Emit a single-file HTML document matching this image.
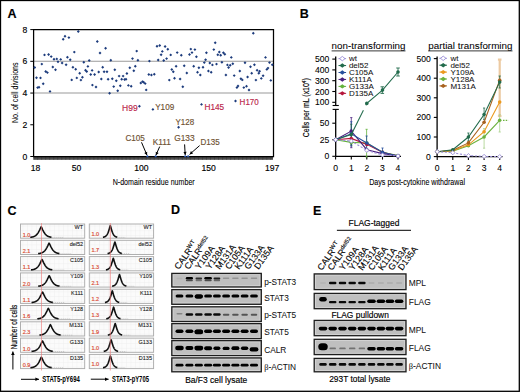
<!DOCTYPE html>
<html><head><meta charset="utf-8"><style>
html,body{margin:0;padding:0;background:#fff;}
svg{display:block;}
text{font-family:"Liberation Sans", sans-serif;}
</style></head><body>
<svg width="520" height="392" viewBox="0 0 520 392">
<defs>
<filter id="bl" x="-30%" y="-60%" width="160%" height="220%"><feGaussianBlur stdDeviation="0.7"/></filter>
<pattern id="grid" patternUnits="userSpaceOnUse" x="0" y="0" width="4.5" height="4.7">
<rect width="4.5" height="4.7" fill="#fbfbfb"/><path d="M0 0V4.7M0 0H4.5" stroke="#e4e4e4" stroke-width="0.5"/></pattern>
</defs>
<rect width="520" height="392" fill="#fff"/>
<rect x="0.50" y="0.50" width="518.80" height="390.80" fill="none" stroke="#000" stroke-width="1.3" />
<text x="7.60" y="18.20" font-size="12.5" fill="#000" stroke="#000" stroke-width="0.15" font-weight="bold" >A</text>
<line x1="33.60" y1="61.32" x2="273.50" y2="61.32" stroke="#9a9a9a" stroke-width="1.1" />
<line x1="33.60" y1="93.05" x2="273.50" y2="93.05" stroke="#9a9a9a" stroke-width="1.1" />
<rect x="33.60" y="156.50" width="239.40" height="3.30" fill="#4d4d4d" stroke="none" stroke-width="1" />
<line x1="33.60" y1="156.50" x2="33.60" y2="159.80" stroke="#333" stroke-width="0.5" />
<line x1="37.62" y1="156.50" x2="37.62" y2="159.80" stroke="#333" stroke-width="0.5" />
<line x1="41.64" y1="156.50" x2="41.64" y2="159.80" stroke="#333" stroke-width="0.5" />
<line x1="45.66" y1="156.50" x2="45.66" y2="159.80" stroke="#333" stroke-width="0.5" />
<line x1="49.68" y1="156.50" x2="49.68" y2="159.80" stroke="#333" stroke-width="0.5" />
<line x1="53.70" y1="156.50" x2="53.70" y2="159.80" stroke="#333" stroke-width="0.5" />
<line x1="57.72" y1="156.50" x2="57.72" y2="159.80" stroke="#333" stroke-width="0.5" />
<line x1="61.74" y1="156.50" x2="61.74" y2="159.80" stroke="#333" stroke-width="0.5" />
<line x1="65.77" y1="156.50" x2="65.77" y2="159.80" stroke="#333" stroke-width="0.5" />
<line x1="69.79" y1="156.50" x2="69.79" y2="159.80" stroke="#333" stroke-width="0.5" />
<line x1="73.81" y1="156.50" x2="73.81" y2="159.80" stroke="#333" stroke-width="0.5" />
<line x1="77.83" y1="156.50" x2="77.83" y2="159.80" stroke="#333" stroke-width="0.5" />
<line x1="81.85" y1="156.50" x2="81.85" y2="159.80" stroke="#333" stroke-width="0.5" />
<line x1="85.87" y1="156.50" x2="85.87" y2="159.80" stroke="#333" stroke-width="0.5" />
<line x1="89.89" y1="156.50" x2="89.89" y2="159.80" stroke="#333" stroke-width="0.5" />
<line x1="93.91" y1="156.50" x2="93.91" y2="159.80" stroke="#333" stroke-width="0.5" />
<line x1="97.93" y1="156.50" x2="97.93" y2="159.80" stroke="#333" stroke-width="0.5" />
<line x1="101.95" y1="156.50" x2="101.95" y2="159.80" stroke="#333" stroke-width="0.5" />
<line x1="105.97" y1="156.50" x2="105.97" y2="159.80" stroke="#333" stroke-width="0.5" />
<line x1="109.99" y1="156.50" x2="109.99" y2="159.80" stroke="#333" stroke-width="0.5" />
<line x1="114.01" y1="156.50" x2="114.01" y2="159.80" stroke="#333" stroke-width="0.5" />
<line x1="118.03" y1="156.50" x2="118.03" y2="159.80" stroke="#333" stroke-width="0.5" />
<line x1="122.05" y1="156.50" x2="122.05" y2="159.80" stroke="#333" stroke-width="0.5" />
<line x1="126.08" y1="156.50" x2="126.08" y2="159.80" stroke="#333" stroke-width="0.5" />
<line x1="130.10" y1="156.50" x2="130.10" y2="159.80" stroke="#333" stroke-width="0.5" />
<line x1="134.12" y1="156.50" x2="134.12" y2="159.80" stroke="#333" stroke-width="0.5" />
<line x1="138.14" y1="156.50" x2="138.14" y2="159.80" stroke="#333" stroke-width="0.5" />
<line x1="142.16" y1="156.50" x2="142.16" y2="159.80" stroke="#333" stroke-width="0.5" />
<line x1="146.18" y1="156.50" x2="146.18" y2="159.80" stroke="#333" stroke-width="0.5" />
<line x1="150.20" y1="156.50" x2="150.20" y2="159.80" stroke="#333" stroke-width="0.5" />
<line x1="154.22" y1="156.50" x2="154.22" y2="159.80" stroke="#333" stroke-width="0.5" />
<line x1="158.24" y1="156.50" x2="158.24" y2="159.80" stroke="#333" stroke-width="0.5" />
<line x1="162.26" y1="156.50" x2="162.26" y2="159.80" stroke="#333" stroke-width="0.5" />
<line x1="166.28" y1="156.50" x2="166.28" y2="159.80" stroke="#333" stroke-width="0.5" />
<line x1="170.30" y1="156.50" x2="170.30" y2="159.80" stroke="#333" stroke-width="0.5" />
<line x1="174.32" y1="156.50" x2="174.32" y2="159.80" stroke="#333" stroke-width="0.5" />
<line x1="178.34" y1="156.50" x2="178.34" y2="159.80" stroke="#333" stroke-width="0.5" />
<line x1="182.36" y1="156.50" x2="182.36" y2="159.80" stroke="#333" stroke-width="0.5" />
<line x1="186.39" y1="156.50" x2="186.39" y2="159.80" stroke="#333" stroke-width="0.5" />
<line x1="190.41" y1="156.50" x2="190.41" y2="159.80" stroke="#333" stroke-width="0.5" />
<line x1="194.43" y1="156.50" x2="194.43" y2="159.80" stroke="#333" stroke-width="0.5" />
<line x1="198.45" y1="156.50" x2="198.45" y2="159.80" stroke="#333" stroke-width="0.5" />
<line x1="202.47" y1="156.50" x2="202.47" y2="159.80" stroke="#333" stroke-width="0.5" />
<line x1="206.49" y1="156.50" x2="206.49" y2="159.80" stroke="#333" stroke-width="0.5" />
<line x1="210.51" y1="156.50" x2="210.51" y2="159.80" stroke="#333" stroke-width="0.5" />
<line x1="214.53" y1="156.50" x2="214.53" y2="159.80" stroke="#333" stroke-width="0.5" />
<line x1="218.55" y1="156.50" x2="218.55" y2="159.80" stroke="#333" stroke-width="0.5" />
<line x1="222.57" y1="156.50" x2="222.57" y2="159.80" stroke="#333" stroke-width="0.5" />
<line x1="226.59" y1="156.50" x2="226.59" y2="159.80" stroke="#333" stroke-width="0.5" />
<line x1="230.61" y1="156.50" x2="230.61" y2="159.80" stroke="#333" stroke-width="0.5" />
<line x1="234.63" y1="156.50" x2="234.63" y2="159.80" stroke="#333" stroke-width="0.5" />
<line x1="238.65" y1="156.50" x2="238.65" y2="159.80" stroke="#333" stroke-width="0.5" />
<line x1="242.67" y1="156.50" x2="242.67" y2="159.80" stroke="#333" stroke-width="0.5" />
<line x1="246.70" y1="156.50" x2="246.70" y2="159.80" stroke="#333" stroke-width="0.5" />
<line x1="250.72" y1="156.50" x2="250.72" y2="159.80" stroke="#333" stroke-width="0.5" />
<line x1="254.74" y1="156.50" x2="254.74" y2="159.80" stroke="#333" stroke-width="0.5" />
<line x1="258.76" y1="156.50" x2="258.76" y2="159.80" stroke="#333" stroke-width="0.5" />
<line x1="262.78" y1="156.50" x2="262.78" y2="159.80" stroke="#333" stroke-width="0.5" />
<line x1="266.80" y1="156.50" x2="266.80" y2="159.80" stroke="#333" stroke-width="0.5" />
<line x1="270.82" y1="156.50" x2="270.82" y2="159.80" stroke="#333" stroke-width="0.5" />
<path d="M33.6 156.5V29.6H273.5V156.5H33.6Z" fill="none" stroke="#000" stroke-width="1.25"/>
<line x1="30.30" y1="156.50" x2="33.60" y2="156.50" stroke="#000" stroke-width="1" />
<text x="27.20" y="159.60" font-size="8.6" fill="#000" stroke="#000" stroke-width="0.15" text-anchor="end" >0</text>
<line x1="30.30" y1="124.78" x2="33.60" y2="124.78" stroke="#000" stroke-width="1" />
<text x="27.20" y="127.88" font-size="8.6" fill="#000" stroke="#000" stroke-width="0.15" text-anchor="end" >2</text>
<line x1="30.30" y1="93.05" x2="33.60" y2="93.05" stroke="#000" stroke-width="1" />
<text x="27.20" y="96.15" font-size="8.6" fill="#000" stroke="#000" stroke-width="0.15" text-anchor="end" >4</text>
<line x1="30.30" y1="61.32" x2="33.60" y2="61.32" stroke="#000" stroke-width="1" />
<text x="27.20" y="64.42" font-size="8.6" fill="#000" stroke="#000" stroke-width="0.15" text-anchor="end" >6</text>
<line x1="30.30" y1="29.60" x2="33.60" y2="29.60" stroke="#000" stroke-width="1" />
<text x="27.20" y="32.70" font-size="8.6" fill="#000" stroke="#000" stroke-width="0.15" text-anchor="end" >8</text>
<text x="35.60" y="170.60" font-size="8.6" fill="#000" stroke="#000" stroke-width="0.15" text-anchor="middle" >18</text>
<text x="76.50" y="170.60" font-size="8.6" fill="#000" stroke="#000" stroke-width="0.15" text-anchor="middle" >50</text>
<text x="141.30" y="170.60" font-size="8.6" fill="#000" stroke="#000" stroke-width="0.15" text-anchor="middle" >100</text>
<text x="208.70" y="170.60" font-size="8.6" fill="#000" stroke="#000" stroke-width="0.15" text-anchor="middle" >150</text>
<text x="272.20" y="170.60" font-size="8.6" fill="#000" stroke="#000" stroke-width="0.15" text-anchor="middle" >197</text>
<text x="112.70" y="184.60" font-size="9.4" fill="#000" stroke="#000" stroke-width="0.08" textLength="82" lengthAdjust="spacingAndGlyphs" >N-domain residue number</text>
<text x="17.60" y="123.00" font-size="9.8" fill="#000" stroke="#000" stroke-width="0.05" textLength="60.6" lengthAdjust="spacingAndGlyphs" transform="rotate(-90 17.60 123.00)" >No. of cell divisions</text>
<path d="M76.85 31.50L78.30 30.05L79.75 31.50L78.30 32.95Z" fill="#1c3b7c" stroke="none" stroke-width="0.8"/>
<path d="M63.55 36.30L65.00 34.85L66.45 36.30L65.00 37.75Z" fill="#1c3b7c" stroke="none" stroke-width="0.8"/>
<path d="M61.75 39.30L63.20 37.85L64.65 39.30L63.20 40.75Z" fill="#1c3b7c" stroke="none" stroke-width="0.8"/>
<path d="M67.45 37.60L68.90 36.15L70.35 37.60L68.90 39.05Z" fill="#1c3b7c" stroke="none" stroke-width="0.8"/>
<path d="M72.85 52.10L74.30 50.65L75.75 52.10L74.30 53.55Z" fill="#1c3b7c" stroke="none" stroke-width="0.8"/>
<path d="M43.05 54.90L44.50 53.45L45.95 54.90L44.50 56.35Z" fill="#1c3b7c" stroke="none" stroke-width="0.8"/>
<path d="M47.15 54.50L48.60 53.05L50.05 54.50L48.60 55.95Z" fill="#1c3b7c" stroke="none" stroke-width="0.8"/>
<path d="M49.75 56.60L51.20 55.15L52.65 56.60L51.20 58.05Z" fill="#1c3b7c" stroke="none" stroke-width="0.8"/>
<path d="M52.55 59.20L54.00 57.75L55.45 59.20L54.00 60.65Z" fill="#1c3b7c" stroke="none" stroke-width="0.8"/>
<path d="M55.35 58.90L56.80 57.45L58.25 58.90L56.80 60.35Z" fill="#1c3b7c" stroke="none" stroke-width="0.8"/>
<path d="M56.55 61.70L58.00 60.25L59.45 61.70L58.00 63.15Z" fill="#1c3b7c" stroke="none" stroke-width="0.8"/>
<path d="M59.25 59.40L60.70 57.95L62.15 59.40L60.70 60.85Z" fill="#1c3b7c" stroke="none" stroke-width="0.8"/>
<path d="M60.65 63.00L62.10 61.55L63.55 63.00L62.10 64.45Z" fill="#1c3b7c" stroke="none" stroke-width="0.8"/>
<path d="M65.95 57.20L67.40 55.75L68.85 57.20L67.40 58.65Z" fill="#1c3b7c" stroke="none" stroke-width="0.8"/>
<path d="M68.75 59.70L70.20 58.25L71.65 59.70L70.20 61.15Z" fill="#1c3b7c" stroke="none" stroke-width="0.8"/>
<path d="M64.65 64.70L66.10 63.25L67.55 64.70L66.10 66.15Z" fill="#1c3b7c" stroke="none" stroke-width="0.8"/>
<path d="M82.35 62.20L83.80 60.75L85.25 62.20L83.80 63.65Z" fill="#1c3b7c" stroke="none" stroke-width="0.8"/>
<path d="M87.75 60.50L89.20 59.05L90.65 60.50L89.20 61.95Z" fill="#1c3b7c" stroke="none" stroke-width="0.8"/>
<path d="M40.35 64.10L41.80 62.65L43.25 64.10L41.80 65.55Z" fill="#1c3b7c" stroke="none" stroke-width="0.8"/>
<path d="M51.35 67.00L52.80 65.55L54.25 67.00L52.80 68.45Z" fill="#1c3b7c" stroke="none" stroke-width="0.8"/>
<path d="M71.45 67.20L72.90 65.75L74.35 67.20L72.90 68.65Z" fill="#1c3b7c" stroke="none" stroke-width="0.8"/>
<path d="M86.45 66.40L87.90 64.95L89.35 66.40L87.90 67.85Z" fill="#1c3b7c" stroke="none" stroke-width="0.8"/>
<path d="M33.25 67.50L34.70 66.05L36.15 67.50L34.70 68.95Z" fill="#1c3b7c" stroke="none" stroke-width="0.8"/>
<path d="M54.05 69.70L55.50 68.25L56.95 69.70L55.50 71.15Z" fill="#1c3b7c" stroke="none" stroke-width="0.8"/>
<path d="M74.25 69.30L75.70 67.85L77.15 69.30L75.70 70.75Z" fill="#1c3b7c" stroke="none" stroke-width="0.8"/>
<path d="M90.65 70.40L92.10 68.95L93.55 70.40L92.10 71.85Z" fill="#1c3b7c" stroke="none" stroke-width="0.8"/>
<path d="M44.25 71.50L45.70 70.05L47.15 71.50L45.70 72.95Z" fill="#1c3b7c" stroke="none" stroke-width="0.8"/>
<path d="M45.95 72.60L47.40 71.15L48.85 72.60L47.40 74.05Z" fill="#1c3b7c" stroke="none" stroke-width="0.8"/>
<path d="M78.25 73.20L79.70 71.75L81.15 73.20L79.70 74.65Z" fill="#1c3b7c" stroke="none" stroke-width="0.8"/>
<path d="M84.05 70.30L85.50 68.85L86.95 70.30L85.50 71.75Z" fill="#1c3b7c" stroke="none" stroke-width="0.8"/>
<path d="M85.25 71.50L86.70 70.05L88.15 71.50L86.70 72.95Z" fill="#1c3b7c" stroke="none" stroke-width="0.8"/>
<path d="M89.25 74.50L90.70 73.05L92.15 74.50L90.70 75.95Z" fill="#1c3b7c" stroke="none" stroke-width="0.8"/>
<path d="M35.05 77.80L36.50 76.35L37.95 77.80L36.50 79.25Z" fill="#1c3b7c" stroke="none" stroke-width="0.8"/>
<path d="M39.05 77.90L40.50 76.45L41.95 77.90L40.50 79.35Z" fill="#1c3b7c" stroke="none" stroke-width="0.8"/>
<path d="M75.35 77.90L76.80 76.45L78.25 77.90L76.80 79.35Z" fill="#1c3b7c" stroke="none" stroke-width="0.8"/>
<path d="M80.95 77.20L82.40 75.75L83.85 77.20L82.40 78.65Z" fill="#1c3b7c" stroke="none" stroke-width="0.8"/>
<path d="M70.25 79.90L71.70 78.45L73.15 79.90L71.70 81.35Z" fill="#1c3b7c" stroke="none" stroke-width="0.8"/>
<path d="M79.45 80.10L80.90 78.65L82.35 80.10L80.90 81.55Z" fill="#1c3b7c" stroke="none" stroke-width="0.8"/>
<path d="M41.75 83.70L43.20 82.25L44.65 83.70L43.20 85.15Z" fill="#1c3b7c" stroke="none" stroke-width="0.8"/>
<path d="M36.15 87.60L37.60 86.15L39.05 87.60L37.60 89.05Z" fill="#1c3b7c" stroke="none" stroke-width="0.8"/>
<path d="M37.55 87.20L39.00 85.75L40.45 87.20L39.00 88.65Z" fill="#1c3b7c" stroke="none" stroke-width="0.8"/>
<path d="M48.55 91.40L50.00 89.95L51.45 91.40L50.00 92.85Z" fill="#1c3b7c" stroke="none" stroke-width="0.8"/>
<path d="M90.95 85.10L92.40 83.65L93.85 85.10L92.40 86.55Z" fill="#1c3b7c" stroke="none" stroke-width="0.8"/>
<path d="M95.85 41.50L97.30 40.05L98.75 41.50L97.30 42.95Z" fill="#1c3b7c" stroke="none" stroke-width="0.8"/>
<path d="M104.15 48.20L105.60 46.75L107.05 48.20L105.60 49.65Z" fill="#1c3b7c" stroke="none" stroke-width="0.8"/>
<path d="M98.55 53.00L100.00 51.55L101.45 53.00L100.00 54.45Z" fill="#1c3b7c" stroke="none" stroke-width="0.8"/>
<path d="M109.35 60.30L110.80 58.85L112.25 60.30L110.80 61.75Z" fill="#1c3b7c" stroke="none" stroke-width="0.8"/>
<path d="M135.25 51.10L136.70 49.65L138.15 51.10L136.70 52.55Z" fill="#1c3b7c" stroke="none" stroke-width="0.8"/>
<path d="M131.05 58.60L132.50 57.15L133.95 58.60L132.50 60.05Z" fill="#1c3b7c" stroke="none" stroke-width="0.8"/>
<path d="M136.45 60.30L137.90 58.85L139.35 60.30L137.90 61.75Z" fill="#1c3b7c" stroke="none" stroke-width="0.8"/>
<path d="M147.95 61.10L149.40 59.65L150.85 61.10L149.40 62.55Z" fill="#1c3b7c" stroke="none" stroke-width="0.8"/>
<path d="M101.25 67.20L102.70 65.75L104.15 67.20L102.70 68.65Z" fill="#1c3b7c" stroke="none" stroke-width="0.8"/>
<path d="M128.35 67.80L129.80 66.35L131.25 67.80L129.80 69.25Z" fill="#1c3b7c" stroke="none" stroke-width="0.8"/>
<path d="M133.85 66.30L135.30 64.85L136.75 66.30L135.30 67.75Z" fill="#1c3b7c" stroke="none" stroke-width="0.8"/>
<path d="M93.15 74.50L94.60 73.05L96.05 74.50L94.60 75.95Z" fill="#1c3b7c" stroke="none" stroke-width="0.8"/>
<path d="M97.25 72.00L98.70 70.55L100.15 72.00L98.70 73.45Z" fill="#1c3b7c" stroke="none" stroke-width="0.8"/>
<path d="M102.65 71.80L104.10 70.35L105.55 71.80L104.10 73.25Z" fill="#1c3b7c" stroke="none" stroke-width="0.8"/>
<path d="M105.55 71.80L107.00 70.35L108.45 71.80L107.00 73.25Z" fill="#1c3b7c" stroke="none" stroke-width="0.8"/>
<path d="M113.35 69.80L114.80 68.35L116.25 69.80L114.80 71.25Z" fill="#1c3b7c" stroke="none" stroke-width="0.8"/>
<path d="M132.35 70.70L133.80 69.25L135.25 70.70L133.80 72.15Z" fill="#1c3b7c" stroke="none" stroke-width="0.8"/>
<path d="M125.45 73.50L126.90 72.05L128.35 73.50L126.90 74.95Z" fill="#1c3b7c" stroke="none" stroke-width="0.8"/>
<path d="M147.35 74.50L148.80 73.05L150.25 74.50L148.80 75.95Z" fill="#1c3b7c" stroke="none" stroke-width="0.8"/>
<path d="M99.85 79.00L101.30 77.55L102.75 79.00L101.30 80.45Z" fill="#1c3b7c" stroke="none" stroke-width="0.8"/>
<path d="M106.65 79.30L108.10 77.85L109.55 79.30L108.10 80.75Z" fill="#1c3b7c" stroke="none" stroke-width="0.8"/>
<path d="M110.85 78.70L112.30 77.25L113.75 78.70L112.30 80.15Z" fill="#1c3b7c" stroke="none" stroke-width="0.8"/>
<path d="M114.85 80.70L116.30 79.25L117.75 80.70L116.30 82.15Z" fill="#1c3b7c" stroke="none" stroke-width="0.8"/>
<path d="M117.65 76.10L119.10 74.65L120.55 76.10L119.10 77.55Z" fill="#1c3b7c" stroke="none" stroke-width="0.8"/>
<path d="M121.65 76.10L123.10 74.65L124.55 76.10L123.10 77.55Z" fill="#1c3b7c" stroke="none" stroke-width="0.8"/>
<path d="M120.25 79.30L121.70 77.85L123.15 79.30L121.70 80.75Z" fill="#1c3b7c" stroke="none" stroke-width="0.8"/>
<path d="M123.15 79.50L124.60 78.05L126.05 79.50L124.60 80.95Z" fill="#1c3b7c" stroke="none" stroke-width="0.8"/>
<path d="M124.55 79.30L126.00 77.85L127.45 79.30L126.00 80.75Z" fill="#1c3b7c" stroke="none" stroke-width="0.8"/>
<path d="M94.55 87.00L96.00 85.55L97.45 87.00L96.00 88.45Z" fill="#1c3b7c" stroke="none" stroke-width="0.8"/>
<path d="M112.25 86.60L113.70 85.15L115.15 86.60L113.70 88.05Z" fill="#1c3b7c" stroke="none" stroke-width="0.8"/>
<path d="M118.85 85.70L120.30 84.25L121.75 85.70L120.30 87.15Z" fill="#1c3b7c" stroke="none" stroke-width="0.8"/>
<path d="M126.95 85.40L128.40 83.95L129.85 85.40L128.40 86.85Z" fill="#1c3b7c" stroke="none" stroke-width="0.8"/>
<path d="M129.75 86.20L131.20 84.75L132.65 86.20L131.20 87.65Z" fill="#1c3b7c" stroke="none" stroke-width="0.8"/>
<path d="M116.25 90.80L117.70 89.35L119.15 90.80L117.70 92.25Z" fill="#1c3b7c" stroke="none" stroke-width="0.8"/>
<path d="M108.15 93.20L109.60 91.75L111.05 93.20L109.60 94.65Z" fill="#1c3b7c" stroke="none" stroke-width="0.8"/>
<path d="M139.35 83.00L140.80 81.55L142.25 83.00L140.80 84.45Z" fill="#1c3b7c" stroke="none" stroke-width="0.8"/>
<path d="M141.05 81.60L142.50 80.15L143.95 81.60L142.50 83.05Z" fill="#1c3b7c" stroke="none" stroke-width="0.8"/>
<path d="M142.25 82.20L143.70 80.75L145.15 82.20L143.70 83.65Z" fill="#1c3b7c" stroke="none" stroke-width="0.8"/>
<path d="M143.75 83.60L145.20 82.15L146.65 83.60L145.20 85.05Z" fill="#1c3b7c" stroke="none" stroke-width="0.8"/>
<path d="M144.75 89.90L146.20 88.45L147.65 89.90L146.20 91.35Z" fill="#1c3b7c" stroke="none" stroke-width="0.8"/>
<path d="M155.55 46.20L157.00 44.75L158.45 46.20L157.00 47.65Z" fill="#1c3b7c" stroke="none" stroke-width="0.8"/>
<path d="M158.25 45.50L159.70 44.05L161.15 45.50L159.70 46.95Z" fill="#1c3b7c" stroke="none" stroke-width="0.8"/>
<path d="M163.65 46.50L165.10 45.05L166.55 46.50L165.10 47.95Z" fill="#1c3b7c" stroke="none" stroke-width="0.8"/>
<path d="M166.35 49.30L167.80 47.85L169.25 49.30L167.80 50.75Z" fill="#1c3b7c" stroke="none" stroke-width="0.8"/>
<path d="M160.85 51.40L162.30 49.95L163.75 51.40L162.30 52.85Z" fill="#1c3b7c" stroke="none" stroke-width="0.8"/>
<path d="M159.65 54.80L161.10 53.35L162.55 54.80L161.10 56.25Z" fill="#1c3b7c" stroke="none" stroke-width="0.8"/>
<path d="M169.25 54.90L170.70 53.45L172.15 54.90L170.70 56.35Z" fill="#1c3b7c" stroke="none" stroke-width="0.8"/>
<path d="M175.75 52.60L177.20 51.15L178.65 52.60L177.20 54.05Z" fill="#1c3b7c" stroke="none" stroke-width="0.8"/>
<path d="M179.85 55.30L181.30 53.85L182.75 55.30L181.30 56.75Z" fill="#1c3b7c" stroke="none" stroke-width="0.8"/>
<path d="M189.35 49.10L190.80 47.65L192.25 49.10L190.80 50.55Z" fill="#1c3b7c" stroke="none" stroke-width="0.8"/>
<path d="M193.45 49.60L194.90 48.15L196.35 49.60L194.90 51.05Z" fill="#1c3b7c" stroke="none" stroke-width="0.8"/>
<path d="M190.55 52.60L192.00 51.15L193.45 52.60L192.00 54.05Z" fill="#1c3b7c" stroke="none" stroke-width="0.8"/>
<path d="M188.05 54.50L189.50 53.05L190.95 54.50L189.50 55.95Z" fill="#1c3b7c" stroke="none" stroke-width="0.8"/>
<path d="M194.95 56.80L196.40 55.35L197.85 56.80L196.40 58.25Z" fill="#1c3b7c" stroke="none" stroke-width="0.8"/>
<path d="M204.95 52.80L206.40 51.35L207.85 52.80L206.40 54.25Z" fill="#1c3b7c" stroke="none" stroke-width="0.8"/>
<path d="M165.15 58.60L166.60 57.15L168.05 58.60L166.60 60.05Z" fill="#1c3b7c" stroke="none" stroke-width="0.8"/>
<path d="M156.75 60.00L158.20 58.55L159.65 60.00L158.20 61.45Z" fill="#1c3b7c" stroke="none" stroke-width="0.8"/>
<path d="M162.25 60.50L163.70 59.05L165.15 60.50L163.70 61.95Z" fill="#1c3b7c" stroke="none" stroke-width="0.8"/>
<path d="M204.15 59.70L205.60 58.25L207.05 59.70L205.60 61.15Z" fill="#1c3b7c" stroke="none" stroke-width="0.8"/>
<path d="M202.85 62.60L204.30 61.15L205.75 62.60L204.30 64.05Z" fill="#1c3b7c" stroke="none" stroke-width="0.8"/>
<path d="M174.65 66.30L176.10 64.85L177.55 66.30L176.10 67.75Z" fill="#1c3b7c" stroke="none" stroke-width="0.8"/>
<path d="M182.75 65.80L184.20 64.35L185.65 65.80L184.20 67.25Z" fill="#1c3b7c" stroke="none" stroke-width="0.8"/>
<path d="M192.25 66.30L193.70 64.85L195.15 66.30L193.70 67.75Z" fill="#1c3b7c" stroke="none" stroke-width="0.8"/>
<path d="M197.45 67.80L198.90 66.35L200.35 67.80L198.90 69.25Z" fill="#1c3b7c" stroke="none" stroke-width="0.8"/>
<path d="M201.55 67.20L203.00 65.75L204.45 67.20L203.00 68.65Z" fill="#1c3b7c" stroke="none" stroke-width="0.8"/>
<path d="M170.35 69.50L171.80 68.05L173.25 69.50L171.80 70.95Z" fill="#1c3b7c" stroke="none" stroke-width="0.8"/>
<path d="M171.85 71.80L173.30 70.35L174.75 71.80L173.30 73.25Z" fill="#1c3b7c" stroke="none" stroke-width="0.8"/>
<path d="M185.35 73.00L186.80 71.55L188.25 73.00L186.80 74.45Z" fill="#1c3b7c" stroke="none" stroke-width="0.8"/>
<path d="M196.05 72.20L197.50 70.75L198.95 72.20L197.50 73.65Z" fill="#1c3b7c" stroke="none" stroke-width="0.8"/>
<path d="M198.85 75.00L200.30 73.55L201.75 75.00L200.30 76.45Z" fill="#1c3b7c" stroke="none" stroke-width="0.8"/>
<path d="M149.95 75.00L151.40 73.55L152.85 75.00L151.40 76.45Z" fill="#1c3b7c" stroke="none" stroke-width="0.8"/>
<path d="M152.85 74.30L154.30 72.85L155.75 74.30L154.30 75.75Z" fill="#1c3b7c" stroke="none" stroke-width="0.8"/>
<path d="M167.85 80.10L169.30 78.65L170.75 80.10L169.30 81.55Z" fill="#1c3b7c" stroke="none" stroke-width="0.8"/>
<path d="M173.05 78.20L174.50 76.75L175.95 78.20L174.50 79.65Z" fill="#1c3b7c" stroke="none" stroke-width="0.8"/>
<path d="M178.65 79.00L180.10 77.55L181.55 79.00L180.10 80.45Z" fill="#1c3b7c" stroke="none" stroke-width="0.8"/>
<path d="M181.35 86.80L182.80 85.35L184.25 86.80L182.80 88.25Z" fill="#1c3b7c" stroke="none" stroke-width="0.8"/>
<path d="M251.85 33.20L253.30 31.75L254.75 33.20L253.30 34.65Z" fill="#1c3b7c" stroke="none" stroke-width="0.8"/>
<path d="M213.75 42.70L215.20 41.25L216.65 42.70L215.20 44.15Z" fill="#1c3b7c" stroke="none" stroke-width="0.8"/>
<path d="M212.35 49.60L213.80 48.15L215.25 49.60L213.80 51.05Z" fill="#1c3b7c" stroke="none" stroke-width="0.8"/>
<path d="M217.85 52.00L219.30 50.55L220.75 52.00L219.30 53.45Z" fill="#1c3b7c" stroke="none" stroke-width="0.8"/>
<path d="M216.35 54.80L217.80 53.35L219.25 54.80L217.80 56.25Z" fill="#1c3b7c" stroke="none" stroke-width="0.8"/>
<path d="M219.25 55.30L220.70 53.85L222.15 55.30L220.70 56.75Z" fill="#1c3b7c" stroke="none" stroke-width="0.8"/>
<path d="M221.95 52.80L223.40 51.35L224.85 52.80L223.40 54.25Z" fill="#1c3b7c" stroke="none" stroke-width="0.8"/>
<path d="M223.35 54.30L224.80 52.85L226.25 54.30L224.80 55.75Z" fill="#1c3b7c" stroke="none" stroke-width="0.8"/>
<path d="M229.85 57.40L231.30 55.95L232.75 57.40L231.30 58.85Z" fill="#1c3b7c" stroke="none" stroke-width="0.8"/>
<path d="M208.35 63.00L209.80 61.55L211.25 63.00L209.80 64.45Z" fill="#1c3b7c" stroke="none" stroke-width="0.8"/>
<path d="M210.95 64.90L212.40 63.45L213.85 64.90L212.40 66.35Z" fill="#1c3b7c" stroke="none" stroke-width="0.8"/>
<path d="M215.05 64.10L216.50 62.65L217.95 64.10L216.50 65.55Z" fill="#1c3b7c" stroke="none" stroke-width="0.8"/>
<path d="M220.45 62.30L221.90 60.85L223.35 62.30L221.90 63.75Z" fill="#1c3b7c" stroke="none" stroke-width="0.8"/>
<path d="M225.95 64.90L227.40 63.45L228.85 64.90L227.40 66.35Z" fill="#1c3b7c" stroke="none" stroke-width="0.8"/>
<path d="M228.75 65.30L230.20 63.85L231.65 65.30L230.20 66.75Z" fill="#1c3b7c" stroke="none" stroke-width="0.8"/>
<path d="M231.35 63.80L232.80 62.35L234.25 63.80L232.80 65.25Z" fill="#1c3b7c" stroke="none" stroke-width="0.8"/>
<path d="M243.55 62.80L245.00 61.35L246.45 62.80L245.00 64.25Z" fill="#1c3b7c" stroke="none" stroke-width="0.8"/>
<path d="M252.95 64.70L254.40 63.25L255.85 64.70L254.40 66.15Z" fill="#1c3b7c" stroke="none" stroke-width="0.8"/>
<path d="M249.05 66.70L250.50 65.25L251.95 66.70L250.50 68.15Z" fill="#1c3b7c" stroke="none" stroke-width="0.8"/>
<path d="M227.15 67.50L228.60 66.05L230.05 67.50L228.60 68.95Z" fill="#1c3b7c" stroke="none" stroke-width="0.8"/>
<path d="M206.95 71.00L208.40 69.55L209.85 71.00L208.40 72.45Z" fill="#1c3b7c" stroke="none" stroke-width="0.8"/>
<path d="M209.75 72.20L211.20 70.75L212.65 72.20L211.20 73.65Z" fill="#1c3b7c" stroke="none" stroke-width="0.8"/>
<path d="M224.45 75.00L225.90 73.55L227.35 75.00L225.90 76.45Z" fill="#1c3b7c" stroke="none" stroke-width="0.8"/>
<path d="M232.75 75.60L234.20 74.15L235.65 75.60L234.20 77.05Z" fill="#1c3b7c" stroke="none" stroke-width="0.8"/>
<path d="M238.35 71.00L239.80 69.55L241.25 71.00L239.80 72.45Z" fill="#1c3b7c" stroke="none" stroke-width="0.8"/>
<path d="M239.45 78.70L240.90 77.25L242.35 78.70L240.90 80.15Z" fill="#1c3b7c" stroke="none" stroke-width="0.8"/>
<path d="M240.85 79.90L242.30 78.45L243.75 79.90L242.30 81.35Z" fill="#1c3b7c" stroke="none" stroke-width="0.8"/>
<path d="M246.15 77.00L247.60 75.55L249.05 77.00L247.60 78.45Z" fill="#1c3b7c" stroke="none" stroke-width="0.8"/>
<path d="M250.25 73.30L251.70 71.85L253.15 73.30L251.70 74.75Z" fill="#1c3b7c" stroke="none" stroke-width="0.8"/>
<path d="M255.65 70.30L257.10 68.85L258.55 70.30L257.10 71.75Z" fill="#1c3b7c" stroke="none" stroke-width="0.8"/>
<path d="M258.15 71.20L259.60 69.75L261.05 71.20L259.60 72.65Z" fill="#1c3b7c" stroke="none" stroke-width="0.8"/>
<path d="M257.35 73.20L258.80 71.75L260.25 73.20L258.80 74.65Z" fill="#1c3b7c" stroke="none" stroke-width="0.8"/>
<path d="M254.45 80.10L255.90 78.65L257.35 80.10L255.90 81.55Z" fill="#1c3b7c" stroke="none" stroke-width="0.8"/>
<path d="M259.85 78.40L261.30 76.95L262.75 78.40L261.30 79.85Z" fill="#1c3b7c" stroke="none" stroke-width="0.8"/>
<path d="M261.65 75.80L263.10 74.35L264.55 75.80L263.10 77.25Z" fill="#1c3b7c" stroke="none" stroke-width="0.8"/>
<path d="M235.45 87.60L236.90 86.15L238.35 87.60L236.90 89.05Z" fill="#1c3b7c" stroke="none" stroke-width="0.8"/>
<path d="M236.55 86.00L238.00 84.55L239.45 86.00L238.00 87.45Z" fill="#1c3b7c" stroke="none" stroke-width="0.8"/>
<path d="M242.35 87.60L243.80 86.15L245.25 87.60L243.80 89.05Z" fill="#1c3b7c" stroke="none" stroke-width="0.8"/>
<path d="M245.05 86.20L246.50 84.75L247.95 86.20L246.50 87.65Z" fill="#1c3b7c" stroke="none" stroke-width="0.8"/>
<path d="M247.55 90.00L249.00 88.55L250.45 90.00L249.00 91.45Z" fill="#1c3b7c" stroke="none" stroke-width="0.8"/>
<path d="M264.05 57.40L265.50 55.95L266.95 57.40L265.50 58.85Z" fill="#1c3b7c" stroke="none" stroke-width="0.8"/>
<path d="M268.05 62.60L269.50 61.15L270.95 62.60L269.50 64.05Z" fill="#1c3b7c" stroke="none" stroke-width="0.8"/>
<path d="M270.85 64.80L272.30 63.35L273.75 64.80L272.30 66.25Z" fill="#1c3b7c" stroke="none" stroke-width="0.8"/>
<path d="M265.35 69.40L266.80 67.95L268.25 69.40L266.80 70.85Z" fill="#1c3b7c" stroke="none" stroke-width="0.8"/>
<path d="M266.55 68.10L268.00 66.65L269.45 68.10L268.00 69.55Z" fill="#1c3b7c" stroke="none" stroke-width="0.8"/>
<path d="M269.35 80.40L270.80 78.95L272.25 80.40L270.80 81.85Z" fill="#1c3b7c" stroke="none" stroke-width="0.8"/>
<path d="M137.95 106.20L139.40 104.75L140.85 106.20L139.40 107.65Z" fill="#1c3b7c" stroke="none" stroke-width="0.8"/>
<path d="M151.45 109.40L152.90 107.95L154.35 109.40L152.90 110.85Z" fill="#1c3b7c" stroke="none" stroke-width="0.8"/>
<path d="M177.15 127.30L178.60 125.85L180.05 127.30L178.60 128.75Z" fill="#1c3b7c" stroke="none" stroke-width="0.8"/>
<path d="M200.05 104.40L201.50 102.95L202.95 104.40L201.50 105.85Z" fill="#1c3b7c" stroke="none" stroke-width="0.8"/>
<path d="M234.05 101.00L235.50 99.55L236.95 101.00L235.50 102.45Z" fill="#1c3b7c" stroke="none" stroke-width="0.8"/>
<text x="122.10" y="110.60" font-size="8.4" fill="#bb1f4a" stroke="#bb1f4a" stroke-width="0.15" textLength="15.6" lengthAdjust="spacingAndGlyphs" >H99</text>
<text x="155.20" y="109.80" font-size="8.4" fill="#6f5232" stroke="#6f5232" stroke-width="0.15" textLength="19" lengthAdjust="spacingAndGlyphs" >Y109</text>
<text x="175.40" y="124.80" font-size="8.4" fill="#6f5232" stroke="#6f5232" stroke-width="0.15" textLength="18.7" lengthAdjust="spacingAndGlyphs" >Y128</text>
<text x="204.50" y="109.60" font-size="8.4" fill="#bb1f4a" stroke="#bb1f4a" stroke-width="0.15" textLength="19.7" lengthAdjust="spacingAndGlyphs" >H145</text>
<text x="239.60" y="105.00" font-size="8.4" fill="#bb1f4a" stroke="#bb1f4a" stroke-width="0.15" textLength="19.2" lengthAdjust="spacingAndGlyphs" >H170</text>
<text x="125.40" y="140.80" font-size="8.4" fill="#6f5232" stroke="#6f5232" stroke-width="0.15" textLength="19.5" lengthAdjust="spacingAndGlyphs" >C105</text>
<text x="152.80" y="145.10" font-size="8.4" fill="#6f5232" stroke="#6f5232" stroke-width="0.15" textLength="18" lengthAdjust="spacingAndGlyphs" >K111</text>
<text x="174.20" y="141.00" font-size="8.4" fill="#6f5232" stroke="#6f5232" stroke-width="0.15" textLength="20.4" lengthAdjust="spacingAndGlyphs" >G133</text>
<text x="200.50" y="145.00" font-size="8.4" fill="#6f5232" stroke="#6f5232" stroke-width="0.15" textLength="19.3" lengthAdjust="spacingAndGlyphs" >D135</text>
<line x1="141.50" y1="142.30" x2="147.00" y2="155.20" stroke="#000" stroke-width="1.0" />
<path d="M147.00 155.20L144.27 152.88L147.22 151.63Z" fill="#000"/>
<line x1="159.70" y1="146.60" x2="155.90" y2="155.20" stroke="#000" stroke-width="1.0" />
<path d="M155.90 155.20L155.73 151.63L158.66 152.92Z" fill="#000"/>
<line x1="184.60" y1="144.40" x2="185.20" y2="155.00" stroke="#000" stroke-width="1.0" />
<path d="M185.20 155.00L183.42 151.90L186.62 151.71Z" fill="#000"/>
<line x1="199.60" y1="145.60" x2="189.60" y2="154.40" stroke="#000" stroke-width="1.0" />
<path d="M189.60 154.40L190.95 151.08L193.06 153.49Z" fill="#000"/>
<path d="M146.10 156.30L147.40 155.00L148.70 156.30L147.40 157.60Z" fill="#2a58b0" stroke="none" stroke-width="0.8"/>
<path d="M154.40 156.30L155.70 155.00L157.00 156.30L155.70 157.60Z" fill="#2a58b0" stroke="none" stroke-width="0.8"/>
<path d="M183.90 156.30L185.20 155.00L186.50 156.30L185.20 157.60Z" fill="#2a58b0" stroke="none" stroke-width="0.8"/>
<path d="M186.80 156.30L188.10 155.00L189.40 156.30L188.10 157.60Z" fill="#2a58b0" stroke="none" stroke-width="0.8"/>
<text x="299.70" y="18.40" font-size="12.5" fill="#000" stroke="#000" stroke-width="0.15" font-weight="bold" >B</text>
<text x="331.60" y="49.40" font-size="9.7" fill="#000" stroke="#000" stroke-width="0.05" textLength="73.9" lengthAdjust="spacingAndGlyphs" >non-transforming</text>
<line x1="331.60" y1="50.90" x2="405.50" y2="50.90" stroke="#222" stroke-width="0.9" />
<text x="428.20" y="49.40" font-size="9.7" fill="#000" stroke="#000" stroke-width="0.05" textLength="84.3" lengthAdjust="spacingAndGlyphs" >partial transforming</text>
<line x1="428.20" y1="50.90" x2="512.50" y2="50.90" stroke="#222" stroke-width="0.9" />
<text x="309.20" y="137.30" font-size="8.4" fill="#000" stroke="#000" stroke-width="0.15" textLength="59" lengthAdjust="spacingAndGlyphs" transform="rotate(-90 309.20 137.30)" >Cells per mL (x10<tspan font-size="5.5" dy="-3">4</tspan><tspan dy="3">)</tspan></text>
<line x1="335.70" y1="56.50" x2="335.70" y2="105.50" stroke="#000" stroke-width="1.3" />
<line x1="335.70" y1="109.40" x2="335.70" y2="156.30" stroke="#000" stroke-width="1.3" />
<line x1="332.60" y1="105.50" x2="338.80" y2="105.50" stroke="#000" stroke-width="1.1" />
<line x1="332.60" y1="109.40" x2="338.80" y2="109.40" stroke="#000" stroke-width="1.1" />
<line x1="332.30" y1="102.30" x2="335.70" y2="102.30" stroke="#000" stroke-width="1.1" />
<text x="329.30" y="105.30" font-size="8.6" fill="#000" stroke="#000" stroke-width="0.08" text-anchor="end" >100</text>
<line x1="332.30" y1="91.50" x2="335.70" y2="91.50" stroke="#000" stroke-width="1.1" />
<text x="329.30" y="94.50" font-size="8.6" fill="#000" stroke="#000" stroke-width="0.08" text-anchor="end" >200</text>
<line x1="332.30" y1="80.70" x2="335.70" y2="80.70" stroke="#000" stroke-width="1.1" />
<text x="329.30" y="83.70" font-size="8.6" fill="#000" stroke="#000" stroke-width="0.08" text-anchor="end" >300</text>
<line x1="332.30" y1="69.90" x2="335.70" y2="69.90" stroke="#000" stroke-width="1.1" />
<text x="329.30" y="72.90" font-size="8.6" fill="#000" stroke="#000" stroke-width="0.08" text-anchor="end" >400</text>
<line x1="332.30" y1="59.10" x2="335.70" y2="59.10" stroke="#000" stroke-width="1.1" />
<text x="329.30" y="62.10" font-size="8.6" fill="#000" stroke="#000" stroke-width="0.08" text-anchor="end" >500</text>
<line x1="332.30" y1="156.30" x2="335.70" y2="156.30" stroke="#000" stroke-width="1.1" />
<text x="329.30" y="159.30" font-size="8.6" fill="#000" stroke="#000" stroke-width="0.08" text-anchor="end" >0</text>
<line x1="332.30" y1="139.75" x2="335.70" y2="139.75" stroke="#000" stroke-width="1.1" />
<text x="329.30" y="142.75" font-size="8.6" fill="#000" stroke="#000" stroke-width="0.08" text-anchor="end" >25</text>
<line x1="332.30" y1="123.20" x2="335.70" y2="123.20" stroke="#000" stroke-width="1.1" />
<text x="329.30" y="126.20" font-size="8.6" fill="#000" stroke="#000" stroke-width="0.08" text-anchor="end" >50</text>
<line x1="335.70" y1="156.30" x2="401.00" y2="156.30" stroke="#000" stroke-width="1.3" />
<line x1="335.60" y1="156.30" x2="335.60" y2="159.60" stroke="#000" stroke-width="1.1" />
<text x="335.60" y="170.90" font-size="8.6" fill="#000" stroke="#000" stroke-width="0.08" text-anchor="middle" >0</text>
<line x1="351.30" y1="156.30" x2="351.30" y2="159.60" stroke="#000" stroke-width="1.1" />
<text x="351.30" y="170.90" font-size="8.6" fill="#000" stroke="#000" stroke-width="0.08" text-anchor="middle" >1</text>
<line x1="366.80" y1="156.30" x2="366.80" y2="159.60" stroke="#000" stroke-width="1.1" />
<text x="366.80" y="170.90" font-size="8.6" fill="#000" stroke="#000" stroke-width="0.08" text-anchor="middle" >2</text>
<line x1="382.50" y1="156.30" x2="382.50" y2="159.60" stroke="#000" stroke-width="1.1" />
<text x="382.50" y="170.90" font-size="8.6" fill="#000" stroke="#000" stroke-width="0.08" text-anchor="middle" >3</text>
<line x1="398.00" y1="156.30" x2="398.00" y2="159.60" stroke="#000" stroke-width="1.1" />
<text x="398.00" y="170.90" font-size="8.6" fill="#000" stroke="#000" stroke-width="0.08" text-anchor="middle" >4</text>
<line x1="437.10" y1="56.50" x2="437.10" y2="156.60" stroke="#000" stroke-width="1.3" />
<line x1="433.80" y1="156.60" x2="437.10" y2="156.60" stroke="#000" stroke-width="1.1" />
<text x="430.80" y="159.60" font-size="8.6" fill="#000" stroke="#000" stroke-width="0.08" text-anchor="end" >0</text>
<line x1="433.80" y1="137.00" x2="437.10" y2="137.00" stroke="#000" stroke-width="1.1" />
<text x="430.80" y="140.00" font-size="8.6" fill="#000" stroke="#000" stroke-width="0.08" text-anchor="end" >100</text>
<line x1="433.80" y1="117.40" x2="437.10" y2="117.40" stroke="#000" stroke-width="1.1" />
<text x="430.80" y="120.40" font-size="8.6" fill="#000" stroke="#000" stroke-width="0.08" text-anchor="end" >200</text>
<line x1="433.80" y1="97.80" x2="437.10" y2="97.80" stroke="#000" stroke-width="1.1" />
<text x="430.80" y="100.80" font-size="8.6" fill="#000" stroke="#000" stroke-width="0.08" text-anchor="end" >300</text>
<line x1="433.80" y1="78.20" x2="437.10" y2="78.20" stroke="#000" stroke-width="1.1" />
<text x="430.80" y="81.20" font-size="8.6" fill="#000" stroke="#000" stroke-width="0.08" text-anchor="end" >400</text>
<line x1="433.80" y1="58.60" x2="437.10" y2="58.60" stroke="#000" stroke-width="1.1" />
<text x="430.80" y="61.60" font-size="8.6" fill="#000" stroke="#000" stroke-width="0.08" text-anchor="end" >500</text>
<line x1="437.10" y1="156.60" x2="502.50" y2="156.60" stroke="#000" stroke-width="1.3" />
<line x1="437.20" y1="156.60" x2="437.20" y2="159.90" stroke="#000" stroke-width="1.1" />
<text x="437.20" y="170.90" font-size="8.6" fill="#000" stroke="#000" stroke-width="0.08" text-anchor="middle" >0</text>
<line x1="452.80" y1="156.60" x2="452.80" y2="159.90" stroke="#000" stroke-width="1.1" />
<text x="452.80" y="170.90" font-size="8.6" fill="#000" stroke="#000" stroke-width="0.08" text-anchor="middle" >1</text>
<line x1="468.40" y1="156.60" x2="468.40" y2="159.90" stroke="#000" stroke-width="1.1" />
<text x="468.40" y="170.90" font-size="8.6" fill="#000" stroke="#000" stroke-width="0.08" text-anchor="middle" >2</text>
<line x1="484.10" y1="156.60" x2="484.10" y2="159.90" stroke="#000" stroke-width="1.1" />
<text x="484.10" y="170.90" font-size="8.6" fill="#000" stroke="#000" stroke-width="0.08" text-anchor="middle" >3</text>
<line x1="499.70" y1="156.60" x2="499.70" y2="159.90" stroke="#000" stroke-width="1.1" />
<text x="499.70" y="170.90" font-size="8.6" fill="#000" stroke="#000" stroke-width="0.08" text-anchor="middle" >4</text>
<text x="369.20" y="185.40" font-size="9.4" fill="#000" stroke="#000" stroke-width="0.08" textLength="95.8" lengthAdjust="spacingAndGlyphs" >Days post-cytokine withdrawal</text>
<line x1="351.30" y1="117.60" x2="351.30" y2="147.70" stroke="#4a1f7d" stroke-width="0.8" />
<line x1="350.20" y1="117.60" x2="352.40" y2="117.60" stroke="#4a1f7d" stroke-width="0.8" />
<line x1="350.20" y1="147.70" x2="352.40" y2="147.70" stroke="#4a1f7d" stroke-width="0.8" />
<line x1="351.30" y1="121.70" x2="351.30" y2="146.00" stroke="#274f9c" stroke-width="0.8" />
<line x1="350.20" y1="121.70" x2="352.40" y2="121.70" stroke="#274f9c" stroke-width="0.8" />
<line x1="350.20" y1="146.00" x2="352.40" y2="146.00" stroke="#274f9c" stroke-width="0.8" />
<line x1="351.30" y1="124.20" x2="351.30" y2="145.00" stroke="#226b4c" stroke-width="0.8" />
<line x1="350.20" y1="124.20" x2="352.40" y2="124.20" stroke="#226b4c" stroke-width="0.8" />
<line x1="350.20" y1="145.00" x2="352.40" y2="145.00" stroke="#226b4c" stroke-width="0.8" />
<line x1="366.60" y1="129.30" x2="366.60" y2="157.00" stroke="#63b33c" stroke-width="0.8" />
<line x1="365.50" y1="129.30" x2="367.70" y2="129.30" stroke="#63b33c" stroke-width="0.8" />
<line x1="365.50" y1="157.00" x2="367.70" y2="157.00" stroke="#63b33c" stroke-width="0.8" />
<line x1="366.60" y1="136.00" x2="366.60" y2="150.00" stroke="#274f9c" stroke-width="0.8" />
<line x1="365.50" y1="136.00" x2="367.70" y2="136.00" stroke="#274f9c" stroke-width="0.8" />
<line x1="365.50" y1="150.00" x2="367.70" y2="150.00" stroke="#274f9c" stroke-width="0.8" />
<line x1="382.30" y1="86.80" x2="382.30" y2="93.40" stroke="#226b4c" stroke-width="0.9" />
<line x1="380.50" y1="86.80" x2="384.10" y2="86.80" stroke="#226b4c" stroke-width="0.9" />
<line x1="380.50" y1="93.40" x2="384.10" y2="93.40" stroke="#226b4c" stroke-width="0.9" />
<line x1="398.00" y1="68.00" x2="398.00" y2="76.00" stroke="#226b4c" stroke-width="0.9" />
<line x1="396.20" y1="68.00" x2="399.80" y2="68.00" stroke="#226b4c" stroke-width="0.9" />
<line x1="396.20" y1="76.00" x2="399.80" y2="76.00" stroke="#226b4c" stroke-width="0.9" />
<line x1="382.50" y1="148.00" x2="382.50" y2="156.00" stroke="#274f9c" stroke-width="0.8" />
<line x1="381.40" y1="148.00" x2="383.60" y2="148.00" stroke="#274f9c" stroke-width="0.8" />
<line x1="381.40" y1="156.00" x2="383.60" y2="156.00" stroke="#274f9c" stroke-width="0.8" />
<polyline points="335.60,139.75 351.30,142.40 366.80,143.06 382.50,152.33 398.00,155.64" fill="none" stroke="#63b33c" stroke-width="1.1"/>
<circle cx="335.60" cy="139.75" r="1.78" fill="#63b33c"/>
<circle cx="351.30" cy="142.40" r="1.78" fill="#63b33c"/>
<circle cx="366.80" cy="143.06" r="1.78" fill="#63b33c"/>
<circle cx="382.50" cy="152.33" r="1.78" fill="#63b33c"/>
<circle cx="398.00" cy="155.64" r="1.78" fill="#63b33c"/>
<polyline points="335.60,139.75 351.30,138.43 366.80,144.38 382.50,152.33 398.00,155.97" fill="none" stroke="#b5173c" stroke-width="1.1"/>
<circle cx="335.60" cy="139.75" r="1.78" fill="#b5173c"/>
<circle cx="351.30" cy="138.43" r="1.78" fill="#b5173c"/>
<circle cx="366.80" cy="144.38" r="1.78" fill="#b5173c"/>
<circle cx="382.50" cy="152.33" r="1.78" fill="#b5173c"/>
<circle cx="398.00" cy="155.97" r="1.78" fill="#b5173c"/>
<polyline points="335.60,139.75 351.30,131.14 366.80,149.68 382.50,153.65 398.00,155.97" fill="none" stroke="#4a1f7d" stroke-width="1.1"/>
<circle cx="335.60" cy="139.75" r="1.78" fill="#4a1f7d"/>
<circle cx="351.30" cy="131.14" r="1.78" fill="#4a1f7d"/>
<circle cx="366.80" cy="149.68" r="1.78" fill="#4a1f7d"/>
<circle cx="382.50" cy="153.65" r="1.78" fill="#4a1f7d"/>
<circle cx="398.00" cy="155.97" r="1.78" fill="#4a1f7d"/>
<polyline points="335.60,139.75 351.30,133.79 366.80,143.06 382.50,152.33 398.00,155.97" fill="none" stroke="#274f9c" stroke-width="1.1"/>
<circle cx="335.60" cy="139.75" r="1.78" fill="#274f9c"/>
<circle cx="351.30" cy="133.79" r="1.78" fill="#274f9c"/>
<circle cx="366.80" cy="143.06" r="1.78" fill="#274f9c"/>
<circle cx="382.50" cy="152.33" r="1.78" fill="#274f9c"/>
<circle cx="398.00" cy="155.97" r="1.78" fill="#274f9c"/>
<line x1="335.60" y1="139.75" x2="351.30" y2="134.45" stroke="#226b4c" stroke-width="1.1" />
<line x1="351.30" y1="134.45" x2="363.41" y2="110.20" stroke="#226b4c" stroke-width="1.1" />
<polyline points="365.90,105.2 366.80,103.40 382.50,90.1 398.00,72.0" fill="none" stroke="#226b4c" stroke-width="1.1"/>
<circle cx="335.60" cy="139.75" r="1.8" fill="#226b4c"/>
<circle cx="351.30" cy="134.45" r="1.8" fill="#226b4c"/>
<circle cx="366.80" cy="103.40" r="1.8" fill="#226b4c"/>
<circle cx="382.50" cy="90.10" r="1.8" fill="#226b4c"/>
<circle cx="398.00" cy="72.00" r="1.8" fill="#226b4c"/>
<polyline points="335.60,139.75 351.30,141.07 366.80,150.34 382.50,154.98 398.00,155.97" fill="none" stroke="#9b8fd6" stroke-width="1.1" stroke-dasharray="2.2,1.6"/>
<path d="M333.50 139.75L335.60 137.65L337.70 139.75L335.60 141.85Z" fill="#fff" stroke="#9b8fd6" stroke-width="0.9"/>
<path d="M349.20 141.07L351.30 138.97L353.40 141.07L351.30 143.17Z" fill="#fff" stroke="#9b8fd6" stroke-width="0.9"/>
<path d="M364.70 150.34L366.80 148.24L368.90 150.34L366.80 152.44Z" fill="#fff" stroke="#9b8fd6" stroke-width="0.9"/>
<path d="M380.40 154.98L382.50 152.88L384.60 154.98L382.50 157.08Z" fill="#fff" stroke="#9b8fd6" stroke-width="0.9"/>
<path d="M395.90 155.97L398.00 153.87L400.10 155.97L398.00 158.07Z" fill="#fff" stroke="#9b8fd6" stroke-width="0.9"/>
<line x1="499.70" y1="59.60" x2="499.70" y2="116.00" stroke="#eccaa2" stroke-width="2.2" />
<line x1="497.90" y1="59.60" x2="501.50" y2="59.60" stroke="#eccaa2" stroke-width="2.2" />
<line x1="497.90" y1="116.00" x2="501.50" y2="116.00" stroke="#eccaa2" stroke-width="2.2" />
<line x1="499.70" y1="76.00" x2="499.70" y2="88.00" stroke="#226b4c" stroke-width="0.8" />
<line x1="498.60" y1="76.00" x2="500.80" y2="76.00" stroke="#226b4c" stroke-width="0.8" />
<line x1="498.60" y1="88.00" x2="500.80" y2="88.00" stroke="#226b4c" stroke-width="0.8" />
<line x1="484.10" y1="108.00" x2="484.10" y2="119.40" stroke="#226b4c" stroke-width="0.8" />
<line x1="483.00" y1="108.00" x2="485.20" y2="108.00" stroke="#226b4c" stroke-width="0.8" />
<line x1="483.00" y1="119.40" x2="485.20" y2="119.40" stroke="#226b4c" stroke-width="0.8" />
<line x1="484.10" y1="128.60" x2="484.10" y2="148.20" stroke="#a8d08a" stroke-width="0.8" />
<line x1="483.00" y1="128.60" x2="485.20" y2="128.60" stroke="#a8d08a" stroke-width="0.8" />
<line x1="483.00" y1="148.20" x2="485.20" y2="148.20" stroke="#a8d08a" stroke-width="0.8" />
<line x1="499.70" y1="114.80" x2="499.70" y2="132.00" stroke="#a8d08a" stroke-width="0.8" />
<line x1="498.60" y1="114.80" x2="500.80" y2="114.80" stroke="#a8d08a" stroke-width="0.8" />
<line x1="498.60" y1="132.00" x2="500.80" y2="132.00" stroke="#a8d08a" stroke-width="0.8" />
<line x1="468.40" y1="133.00" x2="468.40" y2="141.00" stroke="#226b4c" stroke-width="0.8" />
<line x1="467.30" y1="133.00" x2="469.50" y2="133.00" stroke="#226b4c" stroke-width="0.8" />
<line x1="467.30" y1="141.00" x2="469.50" y2="141.00" stroke="#226b4c" stroke-width="0.8" />
<polyline points="437.20,151.70 452.80,151.11 468.40,145.82 484.10,137.00 499.70,120.34" fill="none" stroke="#6cb23f" stroke-width="1.1"/>
<circle cx="437.20" cy="151.70" r="1.78" fill="#6cb23f"/>
<circle cx="452.80" cy="151.11" r="1.78" fill="#6cb23f"/>
<circle cx="468.40" cy="145.82" r="1.78" fill="#6cb23f"/>
<circle cx="484.10" cy="137.00" r="1.78" fill="#6cb23f"/>
<circle cx="499.70" cy="120.34" r="1.78" fill="#6cb23f"/>
<polyline points="437.20,151.70 452.80,150.72 468.40,144.84 484.10,131.71 499.70,102.11" fill="none" stroke="#eb9a1f" stroke-width="1.1"/>
<circle cx="437.20" cy="151.70" r="1.78" fill="#eb9a1f"/>
<circle cx="452.80" cy="150.72" r="1.78" fill="#eb9a1f"/>
<circle cx="468.40" cy="144.84" r="1.78" fill="#eb9a1f"/>
<circle cx="484.10" cy="131.71" r="1.78" fill="#eb9a1f"/>
<circle cx="499.70" cy="102.11" r="1.78" fill="#eb9a1f"/>
<polyline points="437.20,151.70 452.80,150.33 468.40,142.88 484.10,122.30 499.70,80.16" fill="none" stroke="#a8621f" stroke-width="1.1"/>
<circle cx="437.20" cy="151.70" r="1.78" fill="#a8621f"/>
<circle cx="452.80" cy="150.33" r="1.78" fill="#a8621f"/>
<circle cx="468.40" cy="142.88" r="1.78" fill="#a8621f"/>
<circle cx="484.10" cy="122.30" r="1.78" fill="#a8621f"/>
<circle cx="499.70" cy="80.16" r="1.78" fill="#a8621f"/>
<polyline points="437.20,151.70 452.80,149.74 468.40,137.00 484.10,114.46 499.70,82.12" fill="none" stroke="#226b4c" stroke-width="1.1"/>
<circle cx="437.20" cy="151.70" r="1.78" fill="#226b4c"/>
<circle cx="452.80" cy="149.74" r="1.78" fill="#226b4c"/>
<circle cx="468.40" cy="137.00" r="1.78" fill="#226b4c"/>
<circle cx="484.10" cy="114.46" r="1.78" fill="#226b4c"/>
<circle cx="499.70" cy="82.12" r="1.78" fill="#226b4c"/>
<polyline points="437.20,151.70 452.80,152.68 468.40,155.62 484.10,156.40 499.70,156.60" fill="none" stroke="#9b8fd6" stroke-width="1.1" stroke-dasharray="2.2,1.6"/>
<path d="M435.10 151.70L437.20 149.60L439.30 151.70L437.20 153.80Z" fill="#fff" stroke="#9b8fd6" stroke-width="0.9"/>
<path d="M450.70 152.68L452.80 150.58L454.90 152.68L452.80 154.78Z" fill="#fff" stroke="#9b8fd6" stroke-width="0.9"/>
<path d="M466.30 155.62L468.40 153.52L470.50 155.62L468.40 157.72Z" fill="#fff" stroke="#9b8fd6" stroke-width="0.9"/>
<path d="M482.00 156.40L484.10 154.30L486.20 156.40L484.10 158.50Z" fill="#fff" stroke="#9b8fd6" stroke-width="0.9"/>
<path d="M497.60 156.60L499.70 154.50L501.80 156.60L499.70 158.70Z" fill="#fff" stroke="#9b8fd6" stroke-width="0.9"/>
<line x1="503.00" y1="120.30" x2="508.50" y2="120.30" stroke="#6cb23f" stroke-width="1.2" stroke-dasharray="1.5,1.2"/>
<line x1="338.50" y1="58.60" x2="346.10" y2="58.60" stroke="#9b8fd6" stroke-width="1" />
<path d="M339.60 58.60L342.30 56.40L345.00 58.60L342.30 60.80Z" fill="#fff" stroke="#9b8fd6" stroke-width="0.9"/>
<text x="348.90" y="61.40" font-size="8" fill="#111" stroke="#111" stroke-width="0.05" >wt</text>
<line x1="338.50" y1="65.55" x2="346.10" y2="65.55" stroke="#226b4c" stroke-width="1" />
<path d="M339.30 65.55L342.30 63.35L345.30 65.55L342.30 67.75Z" fill="#226b4c" stroke="none" stroke-width="0.8"/>
<text x="348.90" y="68.35" font-size="8" fill="#111" stroke="#111" stroke-width="0.05" >del52</text>
<line x1="338.50" y1="72.50" x2="346.10" y2="72.50" stroke="#274f9c" stroke-width="1" />
<path d="M339.30 72.50L342.30 70.30L345.30 72.50L342.30 74.70Z" fill="#274f9c" stroke="none" stroke-width="0.8"/>
<text x="348.90" y="75.30" font-size="8" fill="#111" stroke="#111" stroke-width="0.05" >C105A</text>
<line x1="338.50" y1="79.45" x2="346.10" y2="79.45" stroke="#4a1f7d" stroke-width="1" />
<path d="M339.30 79.45L342.30 77.25L345.30 79.45L342.30 81.65Z" fill="#4a1f7d" stroke="none" stroke-width="0.8"/>
<text x="348.90" y="82.25" font-size="8" fill="#111" stroke="#111" stroke-width="0.05" >K111A</text>
<line x1="338.50" y1="86.40" x2="346.10" y2="86.40" stroke="#63b33c" stroke-width="1" />
<path d="M339.30 86.40L342.30 84.20L345.30 86.40L342.30 88.60Z" fill="#63b33c" stroke="none" stroke-width="0.8"/>
<text x="348.90" y="89.20" font-size="8" fill="#111" stroke="#111" stroke-width="0.05" >G133A</text>
<line x1="338.50" y1="93.35" x2="346.10" y2="93.35" stroke="#b5173c" stroke-width="1" />
<path d="M339.30 93.35L342.30 91.15L345.30 93.35L342.30 95.55Z" fill="#b5173c" stroke="none" stroke-width="0.8"/>
<text x="348.90" y="96.15" font-size="8" fill="#111" stroke="#111" stroke-width="0.05" >D135A</text>
<line x1="439.40" y1="58.30" x2="447.00" y2="58.30" stroke="#9b8fd6" stroke-width="1" />
<path d="M440.50 58.30L443.20 56.10L445.90 58.30L443.20 60.50Z" fill="#fff" stroke="#9b8fd6" stroke-width="0.9"/>
<text x="450.40" y="61.10" font-size="8" fill="#111" stroke="#111" stroke-width="0.05" >wt</text>
<line x1="439.40" y1="65.20" x2="447.00" y2="65.20" stroke="#226b4c" stroke-width="1" />
<path d="M440.20 65.20L443.20 63.00L446.20 65.20L443.20 67.40Z" fill="#226b4c" stroke="none" stroke-width="0.8"/>
<text x="450.40" y="68.00" font-size="8" fill="#111" stroke="#111" stroke-width="0.05" >del52</text>
<line x1="439.40" y1="72.10" x2="447.00" y2="72.10" stroke="#eb9a1f" stroke-width="1" />
<path d="M440.20 72.10L443.20 69.90L446.20 72.10L443.20 74.30Z" fill="#eb9a1f" stroke="none" stroke-width="0.8"/>
<text x="450.40" y="74.90" font-size="8" fill="#111" stroke="#111" stroke-width="0.05" >Y109A</text>
<line x1="439.40" y1="79.00" x2="447.00" y2="79.00" stroke="#6cb23f" stroke-width="1" />
<path d="M440.20 79.00L443.20 76.80L446.20 79.00L443.20 81.20Z" fill="#6cb23f" stroke="none" stroke-width="0.8"/>
<text x="450.40" y="81.80" font-size="8" fill="#111" stroke="#111" stroke-width="0.05" >Y128A</text>
<line x1="439.40" y1="85.90" x2="447.00" y2="85.90" stroke="#a8621f" stroke-width="1" />
<path d="M440.20 85.90L443.20 83.70L446.20 85.90L443.20 88.10Z" fill="#a8621f" stroke="none" stroke-width="0.8"/>
<text x="450.40" y="88.70" font-size="8" fill="#111" stroke="#111" stroke-width="0.05" >M131A</text>
<text x="7.50" y="214.60" font-size="12.5" fill="#000" stroke="#000" stroke-width="0.15" font-weight="bold" >C</text>
<rect x="20.50" y="224.00" width="64.20" height="14.20" fill="url(#grid)" stroke="#acacac" stroke-width="0.95" />
<polyline points="30.22,237.30 30.46,237.27 30.69,237.25 30.93,237.22 31.17,237.19 31.41,237.16 31.64,237.12 31.88,237.08 32.12,237.03 32.36,236.98 32.59,236.93 32.83,236.87 33.07,236.80 33.30,236.73 33.54,236.65 33.78,236.56 34.02,236.46 34.25,236.36 34.49,236.25 34.73,236.12 34.96,235.99 35.20,235.84 35.44,235.68 35.68,235.51 35.91,235.32 36.15,235.12 36.39,234.90 36.62,234.66 36.86,234.41 37.10,234.14 37.34,233.85 37.57,233.54 37.81,233.20 38.05,232.85 38.29,232.47 38.52,232.08 38.76,231.66 39.00,231.22 39.23,230.76 39.47,230.28 39.71,229.78 39.95,229.28 40.18,228.76 40.42,228.25 40.66,227.74 40.90,227.27 41.13,226.87 41.37,227.03 41.61,227.47 41.84,227.96 42.08,228.47 42.32,228.98 42.56,229.50 42.79,230.00 43.03,230.49 43.27,230.96 43.50,231.41 43.74,231.84 43.98,232.25 44.22,232.64 44.45,233.00 44.69,233.35 44.93,233.67 45.17,233.98 45.40,234.26 45.64,234.52 45.88,234.77 46.11,235.00 46.35,235.21 46.59,235.40 46.83,235.58 47.06,235.75 47.30,235.90 47.54,236.05 47.77,236.18 48.01,236.30 48.25,236.41 48.49,236.51 48.72,236.60 48.96,236.68 49.20,236.76 49.44,236.83 49.67,236.89 49.91,236.95 50.15,237.00 50.38,237.05 50.62,237.10 50.86,237.14 51.10,237.17 51.33,237.20 51.57,237.23" fill="none" stroke="#111" stroke-width="1.6" stroke-linejoin="round"/>
<line x1="51.57" y1="237.40" x2="63.77" y2="237.40" stroke="#b0b0b0" stroke-width="0.6" stroke-dasharray="1.2,0.8"/>
<text x="22.70" y="236.60" font-size="5.5" fill="#d9503a" stroke="#d9503a" stroke-width="0.2" >1.0</text>
<text x="83.10" y="229.40" font-size="5.5" fill="#222" stroke="#222" stroke-width="0.1" text-anchor="end" >WT</text>
<rect x="89.30" y="224.00" width="64.30" height="14.20" fill="url(#grid)" stroke="#acacac" stroke-width="0.95" />
<polyline points="102.92,237.27 103.08,237.25 103.24,237.22 103.40,237.19 103.56,237.16 103.72,237.12 103.88,237.08 104.04,237.03 104.20,236.98 104.36,236.92 104.51,236.86 104.67,236.79 104.83,236.72 104.99,236.64 105.15,236.55 105.31,236.45 105.47,236.35 105.63,236.23 105.79,236.10 105.95,235.97 106.11,235.82 106.27,235.65 106.43,235.48 106.59,235.28 106.75,235.08 106.91,234.85 107.07,234.61 107.22,234.35 107.38,234.06 107.54,233.76 107.70,233.44 107.86,233.09 108.02,232.72 108.18,232.33 108.34,231.91 108.50,231.47 108.66,231.00 108.82,230.51 108.98,230.00 109.14,229.47 109.30,228.92 109.46,228.36 109.62,227.78 109.78,227.21 109.94,226.65 110.09,226.12 110.25,225.68 110.41,225.85 110.57,226.34 110.73,226.89 110.89,227.45 111.05,228.03 111.21,228.60 111.37,229.16 111.53,229.70 111.69,230.22 111.85,230.73 112.01,231.21 112.17,231.66 112.33,232.09 112.49,232.50 112.65,232.88 112.81,233.24 112.97,233.58 113.12,233.89 113.28,234.19 113.44,234.46 113.60,234.71 113.76,234.95 113.92,235.17 114.08,235.37 114.24,235.55 114.40,235.72 114.56,235.88 114.72,236.03 114.88,236.16 115.04,236.28 115.20,236.39 115.36,236.50 115.52,236.59 115.68,236.68 115.83,236.75 115.99,236.82 116.15,236.89 116.31,236.95 116.47,237.00 116.63,237.05 116.79,237.09 116.95,237.13 117.11,237.17 117.27,237.20" fill="none" stroke="#111" stroke-width="1.6" stroke-linejoin="round"/>
<line x1="117.27" y1="237.40" x2="125.47" y2="237.40" stroke="#b0b0b0" stroke-width="0.6" stroke-dasharray="1.2,0.8"/>
<text x="91.50" y="235.90" font-size="5.5" fill="#d9503a" stroke="#d9503a" stroke-width="0.2" >1.0</text>
<text x="152.00" y="229.40" font-size="5.5" fill="#222" stroke="#222" stroke-width="0.1" text-anchor="end" >WT</text>
<rect x="20.50" y="240.30" width="64.20" height="14.20" fill="url(#grid)" stroke="#acacac" stroke-width="0.95" />
<polyline points="38.12,253.60 38.36,253.57 38.59,253.55 38.83,253.52 39.07,253.49 39.31,253.46 39.54,253.42 39.78,253.38 40.02,253.33 40.26,253.28 40.49,253.23 40.73,253.17 40.97,253.10 41.20,253.03 41.44,252.95 41.68,252.86 41.92,252.76 42.15,252.66 42.39,252.55 42.63,252.42 42.86,252.29 43.10,252.14 43.34,251.98 43.58,251.81 43.81,251.62 44.05,251.42 44.29,251.20 44.53,250.96 44.76,250.71 45.00,250.44 45.24,250.15 45.47,249.84 45.71,249.50 45.95,249.15 46.19,248.77 46.42,248.38 46.66,247.96 46.90,247.52 47.13,247.06 47.37,246.58 47.61,246.08 47.85,245.58 48.08,245.06 48.32,244.55 48.56,244.04 48.80,243.57 49.03,243.17 49.27,243.33 49.51,243.77 49.74,244.26 49.98,244.77 50.22,245.28 50.46,245.80 50.69,246.30 50.93,246.79 51.17,247.26 51.40,247.71 51.64,248.14 51.88,248.55 52.12,248.94 52.35,249.30 52.59,249.65 52.83,249.97 53.06,250.28 53.30,250.56 53.54,250.82 53.78,251.07 54.01,251.30 54.25,251.51 54.49,251.70 54.73,251.88 54.96,252.05 55.20,252.20 55.44,252.35 55.67,252.48 55.91,252.60 56.15,252.71 56.39,252.81 56.62,252.90 56.86,252.98 57.10,253.06 57.33,253.13 57.57,253.19 57.81,253.25 58.05,253.30 58.28,253.35 58.52,253.40 58.76,253.44 59.00,253.47 59.23,253.50 59.47,253.53" fill="none" stroke="#111" stroke-width="1.6" stroke-linejoin="round"/>
<line x1="59.47" y1="253.70" x2="71.67" y2="253.70" stroke="#b0b0b0" stroke-width="0.6" stroke-dasharray="1.2,0.8"/>
<text x="22.70" y="252.90" font-size="5.5" fill="#d9503a" stroke="#d9503a" stroke-width="0.2" >2.1</text>
<text x="83.10" y="245.70" font-size="5.5" fill="#222" stroke="#222" stroke-width="0.1" text-anchor="end" >del52</text>
<rect x="89.30" y="240.30" width="64.30" height="14.20" fill="url(#grid)" stroke="#acacac" stroke-width="0.95" />
<polyline points="107.52,253.57 107.68,253.55 107.84,253.52 108.00,253.49 108.16,253.46 108.32,253.42 108.48,253.38 108.64,253.33 108.80,253.28 108.96,253.22 109.11,253.16 109.27,253.09 109.43,253.02 109.59,252.94 109.75,252.85 109.91,252.75 110.07,252.65 110.23,252.53 110.39,252.40 110.55,252.27 110.71,252.12 110.87,251.95 111.03,251.78 111.19,251.58 111.35,251.38 111.51,251.15 111.67,250.91 111.83,250.65 111.98,250.36 112.14,250.06 112.30,249.74 112.46,249.39 112.62,249.02 112.78,248.63 112.94,248.21 113.10,247.77 113.26,247.30 113.42,246.81 113.58,246.30 113.74,245.77 113.90,245.22 114.06,244.66 114.22,244.08 114.38,243.51 114.54,242.95 114.70,242.42 114.85,241.98 115.01,242.15 115.17,242.64 115.33,243.19 115.49,243.75 115.65,244.33 115.81,244.90 115.97,245.46 116.13,246.00 116.29,246.52 116.45,247.03 116.61,247.51 116.77,247.96 116.93,248.39 117.09,248.80 117.25,249.18 117.41,249.54 117.57,249.88 117.72,250.19 117.88,250.49 118.04,250.76 118.20,251.01 118.36,251.25 118.52,251.47 118.68,251.67 118.84,251.85 119.00,252.02 119.16,252.18 119.32,252.33 119.48,252.46 119.64,252.58 119.80,252.69 119.96,252.80 120.12,252.89 120.28,252.98 120.44,253.05 120.59,253.12 120.75,253.19 120.91,253.25 121.07,253.30 121.23,253.35 121.39,253.39 121.55,253.43 121.71,253.47 121.87,253.50" fill="none" stroke="#111" stroke-width="1.6" stroke-linejoin="round"/>
<line x1="121.87" y1="253.70" x2="130.07" y2="253.70" stroke="#b0b0b0" stroke-width="0.6" stroke-dasharray="1.2,0.8"/>
<text x="91.50" y="252.20" font-size="5.5" fill="#d9503a" stroke="#d9503a" stroke-width="0.2" >1.7</text>
<text x="152.00" y="245.70" font-size="5.5" fill="#222" stroke="#222" stroke-width="0.1" text-anchor="end" >del52</text>
<rect x="20.50" y="256.60" width="64.20" height="14.20" fill="url(#grid)" stroke="#acacac" stroke-width="0.95" />
<polyline points="31.02,269.90 31.26,269.87 31.49,269.85 31.73,269.82 31.97,269.79 32.21,269.76 32.44,269.72 32.68,269.68 32.92,269.63 33.16,269.58 33.39,269.53 33.63,269.47 33.87,269.40 34.10,269.33 34.34,269.25 34.58,269.16 34.82,269.06 35.05,268.96 35.29,268.85 35.53,268.72 35.76,268.59 36.00,268.44 36.24,268.28 36.48,268.11 36.71,267.92 36.95,267.72 37.19,267.50 37.42,267.26 37.66,267.01 37.90,266.74 38.14,266.45 38.37,266.14 38.61,265.80 38.85,265.45 39.09,265.07 39.32,264.68 39.56,264.26 39.80,263.82 40.03,263.36 40.27,262.88 40.51,262.38 40.75,261.88 40.98,261.36 41.22,260.85 41.46,260.34 41.70,259.87 41.93,259.47 42.17,259.63 42.41,260.07 42.64,260.56 42.88,261.07 43.12,261.58 43.36,262.10 43.59,262.60 43.83,263.09 44.07,263.56 44.30,264.01 44.54,264.44 44.78,264.85 45.02,265.24 45.25,265.60 45.49,265.95 45.73,266.27 45.97,266.58 46.20,266.86 46.44,267.12 46.68,267.37 46.91,267.60 47.15,267.81 47.39,268.00 47.63,268.18 47.86,268.35 48.10,268.50 48.34,268.65 48.57,268.78 48.81,268.90 49.05,269.01 49.29,269.11 49.52,269.20 49.76,269.28 50.00,269.36 50.23,269.43 50.47,269.49 50.71,269.55 50.95,269.60 51.18,269.65 51.42,269.70 51.66,269.74 51.90,269.77 52.13,269.80 52.37,269.83" fill="none" stroke="#111" stroke-width="1.6" stroke-linejoin="round"/>
<line x1="52.37" y1="270.00" x2="64.57" y2="270.00" stroke="#b0b0b0" stroke-width="0.6" stroke-dasharray="1.2,0.8"/>
<text x="22.70" y="269.20" font-size="5.5" fill="#d9503a" stroke="#d9503a" stroke-width="0.2" >1.1</text>
<text x="83.10" y="262.00" font-size="5.5" fill="#222" stroke="#222" stroke-width="0.1" text-anchor="end" >C105</text>
<rect x="89.30" y="256.60" width="64.30" height="14.20" fill="url(#grid)" stroke="#acacac" stroke-width="0.95" />
<polyline points="105.92,269.87 106.08,269.85 106.24,269.82 106.40,269.79 106.56,269.76 106.72,269.72 106.88,269.68 107.04,269.63 107.20,269.58 107.36,269.52 107.51,269.46 107.67,269.39 107.83,269.32 107.99,269.24 108.15,269.15 108.31,269.05 108.47,268.95 108.63,268.83 108.79,268.70 108.95,268.57 109.11,268.42 109.27,268.25 109.43,268.08 109.59,267.88 109.75,267.68 109.91,267.45 110.07,267.21 110.22,266.95 110.38,266.66 110.54,266.36 110.70,266.04 110.86,265.69 111.02,265.32 111.18,264.93 111.34,264.51 111.50,264.07 111.66,263.60 111.82,263.11 111.98,262.60 112.14,262.07 112.30,261.52 112.46,260.96 112.62,260.38 112.78,259.81 112.94,259.25 113.09,258.72 113.25,258.28 113.41,258.45 113.57,258.94 113.73,259.49 113.89,260.05 114.05,260.63 114.21,261.20 114.37,261.76 114.53,262.30 114.69,262.82 114.85,263.33 115.01,263.81 115.17,264.26 115.33,264.69 115.49,265.10 115.65,265.48 115.81,265.84 115.97,266.18 116.12,266.49 116.28,266.79 116.44,267.06 116.60,267.31 116.76,267.55 116.92,267.77 117.08,267.97 117.24,268.15 117.40,268.32 117.56,268.48 117.72,268.63 117.88,268.76 118.04,268.88 118.20,268.99 118.36,269.10 118.52,269.19 118.68,269.28 118.83,269.35 118.99,269.42 119.15,269.49 119.31,269.55 119.47,269.60 119.63,269.65 119.79,269.69 119.95,269.73 120.11,269.77 120.27,269.80" fill="none" stroke="#111" stroke-width="1.6" stroke-linejoin="round"/>
<line x1="120.27" y1="270.00" x2="128.47" y2="270.00" stroke="#b0b0b0" stroke-width="0.6" stroke-dasharray="1.2,0.8"/>
<text x="91.50" y="268.50" font-size="5.5" fill="#d9503a" stroke="#d9503a" stroke-width="0.2" >1.3</text>
<text x="152.00" y="262.00" font-size="5.5" fill="#222" stroke="#222" stroke-width="0.1" text-anchor="end" >C105</text>
<rect x="20.50" y="272.90" width="64.20" height="14.20" fill="url(#grid)" stroke="#acacac" stroke-width="0.95" />
<polyline points="38.22,286.20 38.46,286.17 38.69,286.15 38.93,286.12 39.17,286.09 39.41,286.06 39.64,286.02 39.88,285.98 40.12,285.93 40.35,285.88 40.59,285.83 40.83,285.77 41.07,285.70 41.30,285.63 41.54,285.55 41.78,285.46 42.02,285.36 42.25,285.26 42.49,285.15 42.73,285.02 42.96,284.89 43.20,284.74 43.44,284.58 43.68,284.41 43.91,284.22 44.15,284.02 44.39,283.80 44.62,283.56 44.86,283.31 45.10,283.04 45.34,282.75 45.57,282.44 45.81,282.10 46.05,281.75 46.29,281.37 46.52,280.98 46.76,280.56 47.00,280.12 47.23,279.66 47.47,279.18 47.71,278.68 47.95,278.18 48.18,277.66 48.42,277.15 48.66,276.64 48.89,276.17 49.13,275.77 49.37,275.93 49.61,276.37 49.84,276.86 50.08,277.37 50.32,277.88 50.56,278.40 50.79,278.90 51.03,279.39 51.27,279.86 51.50,280.31 51.74,280.74 51.98,281.15 52.22,281.54 52.45,281.90 52.69,282.25 52.93,282.57 53.16,282.88 53.40,283.16 53.64,283.42 53.88,283.67 54.11,283.90 54.35,284.11 54.59,284.30 54.83,284.48 55.06,284.65 55.30,284.80 55.54,284.95 55.77,285.08 56.01,285.20 56.25,285.31 56.49,285.41 56.72,285.50 56.96,285.58 57.20,285.66 57.44,285.73 57.67,285.79 57.91,285.85 58.15,285.90 58.38,285.95 58.62,286.00 58.86,286.04 59.10,286.07 59.33,286.10 59.57,286.13" fill="none" stroke="#111" stroke-width="1.6" stroke-linejoin="round"/>
<line x1="59.57" y1="286.30" x2="71.77" y2="286.30" stroke="#b0b0b0" stroke-width="0.6" stroke-dasharray="1.2,0.8"/>
<text x="22.70" y="285.50" font-size="5.5" fill="#d9503a" stroke="#d9503a" stroke-width="0.2" >2.0</text>
<text x="83.10" y="278.30" font-size="5.5" fill="#222" stroke="#222" stroke-width="0.1" text-anchor="end" >Y109</text>
<rect x="89.30" y="272.90" width="64.30" height="14.20" fill="url(#grid)" stroke="#acacac" stroke-width="0.95" />
<polyline points="112.12,286.17 112.28,286.15 112.44,286.12 112.60,286.09 112.76,286.06 112.92,286.02 113.08,285.98 113.24,285.93 113.40,285.88 113.56,285.82 113.71,285.76 113.87,285.69 114.03,285.62 114.19,285.54 114.35,285.45 114.51,285.35 114.67,285.25 114.83,285.13 114.99,285.00 115.15,284.87 115.31,284.72 115.47,284.55 115.63,284.38 115.79,284.18 115.95,283.98 116.11,283.75 116.27,283.51 116.42,283.25 116.58,282.96 116.74,282.66 116.90,282.34 117.06,281.99 117.22,281.62 117.38,281.23 117.54,280.81 117.70,280.37 117.86,279.90 118.02,279.41 118.18,278.90 118.34,278.37 118.50,277.82 118.66,277.26 118.82,276.68 118.98,276.11 119.14,275.55 119.30,275.02 119.45,274.58 119.61,274.75 119.77,275.24 119.93,275.79 120.09,276.35 120.25,276.93 120.41,277.50 120.57,278.06 120.73,278.60 120.89,279.12 121.05,279.63 121.21,280.11 121.37,280.56 121.53,280.99 121.69,281.40 121.85,281.78 122.01,282.14 122.17,282.48 122.32,282.79 122.48,283.09 122.64,283.36 122.80,283.61 122.96,283.85 123.12,284.07 123.28,284.27 123.44,284.45 123.60,284.62 123.76,284.78 123.92,284.93 124.08,285.06 124.24,285.18 124.40,285.29 124.56,285.40 124.72,285.49 124.88,285.58 125.03,285.65 125.19,285.72 125.35,285.79 125.51,285.85 125.67,285.90 125.83,285.95 125.99,285.99 126.15,286.03 126.31,286.07 126.47,286.10" fill="none" stroke="#111" stroke-width="1.6" stroke-linejoin="round"/>
<line x1="126.47" y1="286.30" x2="134.67" y2="286.30" stroke="#b0b0b0" stroke-width="0.6" stroke-dasharray="1.2,0.8"/>
<text x="91.50" y="284.80" font-size="5.5" fill="#d9503a" stroke="#d9503a" stroke-width="0.2" >2.1</text>
<text x="152.00" y="278.30" font-size="5.5" fill="#222" stroke="#222" stroke-width="0.1" text-anchor="end" >Y109</text>
<rect x="20.50" y="289.20" width="64.20" height="14.20" fill="url(#grid)" stroke="#acacac" stroke-width="0.95" />
<polyline points="31.52,302.50 31.76,302.47 31.99,302.45 32.23,302.42 32.47,302.39 32.71,302.36 32.94,302.32 33.18,302.28 33.42,302.23 33.66,302.18 33.89,302.13 34.13,302.07 34.37,302.00 34.60,301.93 34.84,301.85 35.08,301.76 35.32,301.66 35.55,301.56 35.79,301.45 36.03,301.32 36.26,301.19 36.50,301.04 36.74,300.88 36.98,300.71 37.21,300.52 37.45,300.32 37.69,300.10 37.92,299.86 38.16,299.61 38.40,299.34 38.64,299.05 38.87,298.74 39.11,298.40 39.35,298.05 39.59,297.67 39.82,297.28 40.06,296.86 40.30,296.42 40.53,295.96 40.77,295.48 41.01,294.98 41.25,294.48 41.48,293.96 41.72,293.45 41.96,292.94 42.20,292.47 42.43,292.07 42.67,292.23 42.91,292.67 43.14,293.16 43.38,293.67 43.62,294.18 43.86,294.70 44.09,295.20 44.33,295.69 44.57,296.16 44.80,296.61 45.04,297.04 45.28,297.45 45.52,297.84 45.75,298.20 45.99,298.55 46.23,298.87 46.47,299.18 46.70,299.46 46.94,299.72 47.18,299.97 47.41,300.20 47.65,300.41 47.89,300.60 48.13,300.78 48.36,300.95 48.60,301.10 48.84,301.25 49.07,301.38 49.31,301.50 49.55,301.61 49.79,301.71 50.02,301.80 50.26,301.88 50.50,301.96 50.73,302.03 50.97,302.09 51.21,302.15 51.45,302.20 51.68,302.25 51.92,302.30 52.16,302.34 52.40,302.37 52.63,302.40 52.87,302.43" fill="none" stroke="#111" stroke-width="1.6" stroke-linejoin="round"/>
<line x1="52.87" y1="302.60" x2="65.07" y2="302.60" stroke="#b0b0b0" stroke-width="0.6" stroke-dasharray="1.2,0.8"/>
<text x="22.70" y="301.80" font-size="5.5" fill="#d9503a" stroke="#d9503a" stroke-width="0.2" >1.1</text>
<text x="83.10" y="294.60" font-size="5.5" fill="#222" stroke="#222" stroke-width="0.1" text-anchor="end" >K111</text>
<rect x="89.30" y="289.20" width="64.30" height="14.20" fill="url(#grid)" stroke="#acacac" stroke-width="0.95" />
<polyline points="104.92,302.47 105.08,302.45 105.24,302.42 105.40,302.39 105.56,302.36 105.72,302.32 105.88,302.28 106.04,302.23 106.20,302.18 106.36,302.12 106.51,302.06 106.67,301.99 106.83,301.92 106.99,301.84 107.15,301.75 107.31,301.65 107.47,301.55 107.63,301.43 107.79,301.30 107.95,301.17 108.11,301.02 108.27,300.85 108.43,300.68 108.59,300.48 108.75,300.28 108.91,300.05 109.07,299.81 109.22,299.55 109.38,299.26 109.54,298.96 109.70,298.64 109.86,298.29 110.02,297.92 110.18,297.53 110.34,297.11 110.50,296.67 110.66,296.20 110.82,295.71 110.98,295.20 111.14,294.67 111.30,294.12 111.46,293.56 111.62,292.98 111.78,292.41 111.94,291.85 112.09,291.32 112.25,290.88 112.41,291.05 112.57,291.54 112.73,292.09 112.89,292.65 113.05,293.23 113.21,293.80 113.37,294.36 113.53,294.90 113.69,295.42 113.85,295.93 114.01,296.41 114.17,296.86 114.33,297.29 114.49,297.70 114.65,298.08 114.81,298.44 114.97,298.78 115.12,299.09 115.28,299.39 115.44,299.66 115.60,299.91 115.76,300.15 115.92,300.37 116.08,300.57 116.24,300.75 116.40,300.92 116.56,301.08 116.72,301.23 116.88,301.36 117.04,301.48 117.20,301.59 117.36,301.70 117.52,301.79 117.68,301.88 117.83,301.95 117.99,302.02 118.15,302.09 118.31,302.15 118.47,302.20 118.63,302.25 118.79,302.29 118.95,302.33 119.11,302.37 119.27,302.40" fill="none" stroke="#111" stroke-width="1.6" stroke-linejoin="round"/>
<line x1="119.27" y1="302.60" x2="127.47" y2="302.60" stroke="#b0b0b0" stroke-width="0.6" stroke-dasharray="1.2,0.8"/>
<text x="91.50" y="301.10" font-size="5.5" fill="#d9503a" stroke="#d9503a" stroke-width="0.2" >1.2</text>
<text x="152.00" y="294.60" font-size="5.5" fill="#222" stroke="#222" stroke-width="0.1" text-anchor="end" >K111</text>
<rect x="20.50" y="305.50" width="64.20" height="14.20" fill="url(#grid)" stroke="#acacac" stroke-width="0.95" />
<polyline points="37.32,318.80 37.56,318.77 37.79,318.75 38.03,318.72 38.27,318.69 38.51,318.66 38.74,318.62 38.98,318.58 39.22,318.53 39.45,318.48 39.69,318.43 39.93,318.37 40.17,318.30 40.40,318.23 40.64,318.15 40.88,318.06 41.12,317.96 41.35,317.86 41.59,317.75 41.83,317.62 42.06,317.49 42.30,317.34 42.54,317.18 42.78,317.01 43.01,316.82 43.25,316.62 43.49,316.40 43.72,316.16 43.96,315.91 44.20,315.64 44.44,315.35 44.67,315.04 44.91,314.70 45.15,314.35 45.39,313.97 45.62,313.58 45.86,313.16 46.10,312.72 46.33,312.26 46.57,311.78 46.81,311.28 47.05,310.78 47.28,310.26 47.52,309.75 47.76,309.24 47.99,308.77 48.23,308.37 48.47,308.53 48.71,308.97 48.94,309.46 49.18,309.97 49.42,310.48 49.66,311.00 49.89,311.50 50.13,311.99 50.37,312.46 50.60,312.91 50.84,313.34 51.08,313.75 51.32,314.14 51.55,314.50 51.79,314.85 52.03,315.17 52.26,315.48 52.50,315.76 52.74,316.02 52.98,316.27 53.21,316.50 53.45,316.71 53.69,316.90 53.93,317.08 54.16,317.25 54.40,317.40 54.64,317.55 54.87,317.68 55.11,317.80 55.35,317.91 55.59,318.01 55.82,318.10 56.06,318.18 56.30,318.26 56.53,318.33 56.77,318.39 57.01,318.45 57.25,318.50 57.48,318.55 57.72,318.60 57.96,318.64 58.20,318.67 58.43,318.70 58.67,318.73" fill="none" stroke="#111" stroke-width="1.6" stroke-linejoin="round"/>
<line x1="58.67" y1="318.90" x2="70.87" y2="318.90" stroke="#b0b0b0" stroke-width="0.6" stroke-dasharray="1.2,0.8"/>
<text x="22.70" y="318.10" font-size="5.5" fill="#d9503a" stroke="#d9503a" stroke-width="0.2" >1.6</text>
<text x="83.10" y="310.90" font-size="5.5" fill="#222" stroke="#222" stroke-width="0.1" text-anchor="end" >Y128</text>
<rect x="89.30" y="305.50" width="64.30" height="14.20" fill="url(#grid)" stroke="#acacac" stroke-width="0.95" />
<polyline points="106.22,318.77 106.38,318.75 106.54,318.72 106.70,318.69 106.86,318.66 107.02,318.62 107.18,318.58 107.34,318.53 107.50,318.48 107.66,318.42 107.81,318.36 107.97,318.29 108.13,318.22 108.29,318.14 108.45,318.05 108.61,317.95 108.77,317.85 108.93,317.73 109.09,317.60 109.25,317.47 109.41,317.32 109.57,317.15 109.73,316.98 109.89,316.78 110.05,316.58 110.21,316.35 110.37,316.11 110.52,315.85 110.68,315.56 110.84,315.26 111.00,314.94 111.16,314.59 111.32,314.22 111.48,313.83 111.64,313.41 111.80,312.97 111.96,312.50 112.12,312.01 112.28,311.50 112.44,310.97 112.60,310.42 112.76,309.86 112.92,309.28 113.08,308.71 113.24,308.15 113.39,307.62 113.55,307.18 113.71,307.35 113.87,307.84 114.03,308.39 114.19,308.95 114.35,309.53 114.51,310.10 114.67,310.66 114.83,311.20 114.99,311.72 115.15,312.23 115.31,312.71 115.47,313.16 115.63,313.59 115.79,314.00 115.95,314.38 116.11,314.74 116.27,315.08 116.42,315.39 116.58,315.69 116.74,315.96 116.90,316.21 117.06,316.45 117.22,316.67 117.38,316.87 117.54,317.05 117.70,317.22 117.86,317.38 118.02,317.53 118.18,317.66 118.34,317.78 118.50,317.89 118.66,318.00 118.82,318.09 118.98,318.18 119.13,318.25 119.29,318.32 119.45,318.39 119.61,318.45 119.77,318.50 119.93,318.55 120.09,318.59 120.25,318.63 120.41,318.67 120.57,318.70" fill="none" stroke="#111" stroke-width="1.6" stroke-linejoin="round"/>
<line x1="120.57" y1="318.90" x2="128.77" y2="318.90" stroke="#b0b0b0" stroke-width="0.6" stroke-dasharray="1.2,0.8"/>
<text x="91.50" y="317.40" font-size="5.5" fill="#d9503a" stroke="#d9503a" stroke-width="0.2" >1.3</text>
<text x="152.00" y="310.90" font-size="5.5" fill="#222" stroke="#222" stroke-width="0.1" text-anchor="end" >Y128</text>
<rect x="20.50" y="321.80" width="64.20" height="14.20" fill="url(#grid)" stroke="#acacac" stroke-width="0.95" />
<polyline points="39.42,335.10 39.66,335.07 39.89,335.05 40.13,335.02 40.37,334.99 40.61,334.96 40.84,334.92 41.08,334.88 41.32,334.83 41.55,334.78 41.79,334.73 42.03,334.67 42.27,334.60 42.50,334.53 42.74,334.45 42.98,334.36 43.22,334.26 43.45,334.16 43.69,334.05 43.93,333.92 44.16,333.79 44.40,333.64 44.64,333.48 44.88,333.31 45.11,333.12 45.35,332.92 45.59,332.70 45.83,332.46 46.06,332.21 46.30,331.94 46.54,331.65 46.77,331.34 47.01,331.00 47.25,330.65 47.49,330.27 47.72,329.88 47.96,329.46 48.20,329.02 48.43,328.56 48.67,328.08 48.91,327.58 49.15,327.08 49.38,326.56 49.62,326.05 49.86,325.54 50.09,325.07 50.33,324.67 50.57,324.83 50.81,325.27 51.04,325.76 51.28,326.27 51.52,326.78 51.76,327.30 51.99,327.80 52.23,328.29 52.47,328.76 52.70,329.21 52.94,329.64 53.18,330.05 53.42,330.44 53.65,330.80 53.89,331.15 54.13,331.47 54.36,331.78 54.60,332.06 54.84,332.32 55.08,332.57 55.31,332.80 55.55,333.01 55.79,333.20 56.03,333.38 56.26,333.55 56.50,333.70 56.74,333.85 56.97,333.98 57.21,334.10 57.45,334.21 57.69,334.31 57.92,334.40 58.16,334.48 58.40,334.56 58.63,334.63 58.87,334.69 59.11,334.75 59.35,334.80 59.58,334.85 59.82,334.90 60.06,334.94 60.30,334.97 60.53,335.00 60.77,335.03" fill="none" stroke="#111" stroke-width="1.6" stroke-linejoin="round"/>
<line x1="60.77" y1="335.20" x2="72.97" y2="335.20" stroke="#b0b0b0" stroke-width="0.6" stroke-dasharray="1.2,0.8"/>
<text x="22.70" y="334.40" font-size="5.5" fill="#d9503a" stroke="#d9503a" stroke-width="0.2" >2.3</text>
<text x="83.10" y="327.20" font-size="5.5" fill="#222" stroke="#222" stroke-width="0.1" text-anchor="end" >M131</text>
<rect x="89.30" y="321.80" width="64.30" height="14.20" fill="url(#grid)" stroke="#acacac" stroke-width="0.95" />
<polyline points="107.82,335.07 107.98,335.05 108.14,335.02 108.30,334.99 108.46,334.96 108.62,334.92 108.78,334.88 108.94,334.83 109.10,334.78 109.26,334.72 109.41,334.66 109.57,334.59 109.73,334.52 109.89,334.44 110.05,334.35 110.21,334.25 110.37,334.15 110.53,334.03 110.69,333.90 110.85,333.77 111.01,333.62 111.17,333.45 111.33,333.28 111.49,333.08 111.65,332.88 111.81,332.65 111.97,332.41 112.12,332.15 112.28,331.86 112.44,331.56 112.60,331.24 112.76,330.89 112.92,330.52 113.08,330.13 113.24,329.71 113.40,329.27 113.56,328.80 113.72,328.31 113.88,327.80 114.04,327.27 114.20,326.72 114.36,326.16 114.52,325.58 114.68,325.01 114.84,324.45 115.00,323.92 115.15,323.48 115.31,323.65 115.47,324.14 115.63,324.69 115.79,325.25 115.95,325.83 116.11,326.40 116.27,326.96 116.43,327.50 116.59,328.02 116.75,328.53 116.91,329.01 117.07,329.46 117.23,329.89 117.39,330.30 117.55,330.68 117.71,331.04 117.87,331.38 118.02,331.69 118.18,331.99 118.34,332.26 118.50,332.51 118.66,332.75 118.82,332.97 118.98,333.17 119.14,333.35 119.30,333.52 119.46,333.68 119.62,333.83 119.78,333.96 119.94,334.08 120.10,334.19 120.26,334.30 120.42,334.39 120.58,334.48 120.73,334.55 120.89,334.62 121.05,334.69 121.21,334.75 121.37,334.80 121.53,334.85 121.69,334.89 121.85,334.93 122.01,334.97 122.17,335.00" fill="none" stroke="#111" stroke-width="1.6" stroke-linejoin="round"/>
<line x1="122.17" y1="335.20" x2="130.37" y2="335.20" stroke="#b0b0b0" stroke-width="0.6" stroke-dasharray="1.2,0.8"/>
<text x="91.50" y="333.70" font-size="5.5" fill="#d9503a" stroke="#d9503a" stroke-width="0.2" >1.9</text>
<text x="152.00" y="327.20" font-size="5.5" fill="#222" stroke="#222" stroke-width="0.1" text-anchor="end" >M131</text>
<rect x="20.50" y="338.10" width="64.20" height="14.20" fill="url(#grid)" stroke="#acacac" stroke-width="0.95" />
<polyline points="31.52,351.40 31.76,351.37 31.99,351.35 32.23,351.32 32.47,351.29 32.71,351.26 32.94,351.22 33.18,351.18 33.42,351.13 33.66,351.08 33.89,351.03 34.13,350.97 34.37,350.90 34.60,350.83 34.84,350.75 35.08,350.66 35.32,350.56 35.55,350.46 35.79,350.35 36.03,350.22 36.26,350.09 36.50,349.94 36.74,349.78 36.98,349.61 37.21,349.42 37.45,349.22 37.69,349.00 37.92,348.76 38.16,348.51 38.40,348.24 38.64,347.95 38.87,347.64 39.11,347.30 39.35,346.95 39.59,346.57 39.82,346.18 40.06,345.76 40.30,345.32 40.53,344.86 40.77,344.38 41.01,343.88 41.25,343.38 41.48,342.86 41.72,342.35 41.96,341.84 42.20,341.37 42.43,340.97 42.67,341.13 42.91,341.57 43.14,342.06 43.38,342.57 43.62,343.08 43.86,343.60 44.09,344.10 44.33,344.59 44.57,345.06 44.80,345.51 45.04,345.94 45.28,346.35 45.52,346.74 45.75,347.10 45.99,347.45 46.23,347.77 46.47,348.08 46.70,348.36 46.94,348.62 47.18,348.87 47.41,349.10 47.65,349.31 47.89,349.50 48.13,349.68 48.36,349.85 48.60,350.00 48.84,350.15 49.07,350.28 49.31,350.40 49.55,350.51 49.79,350.61 50.02,350.70 50.26,350.78 50.50,350.86 50.73,350.93 50.97,350.99 51.21,351.05 51.45,351.10 51.68,351.15 51.92,351.20 52.16,351.24 52.40,351.27 52.63,351.30 52.87,351.33" fill="none" stroke="#111" stroke-width="1.6" stroke-linejoin="round"/>
<line x1="52.87" y1="351.50" x2="65.07" y2="351.50" stroke="#b0b0b0" stroke-width="0.6" stroke-dasharray="1.2,0.8"/>
<text x="22.70" y="350.70" font-size="5.5" fill="#d9503a" stroke="#d9503a" stroke-width="0.2" >1.0</text>
<text x="83.10" y="343.50" font-size="5.5" fill="#222" stroke="#222" stroke-width="0.1" text-anchor="end" >G133</text>
<rect x="89.30" y="338.10" width="64.30" height="14.20" fill="url(#grid)" stroke="#acacac" stroke-width="0.95" />
<polyline points="103.72,351.37 103.88,351.35 104.04,351.32 104.20,351.29 104.36,351.26 104.52,351.22 104.68,351.18 104.84,351.13 105.00,351.08 105.16,351.02 105.31,350.96 105.47,350.89 105.63,350.82 105.79,350.74 105.95,350.65 106.11,350.55 106.27,350.45 106.43,350.33 106.59,350.20 106.75,350.07 106.91,349.92 107.07,349.75 107.23,349.58 107.39,349.38 107.55,349.18 107.71,348.95 107.87,348.71 108.02,348.45 108.18,348.16 108.34,347.86 108.50,347.54 108.66,347.19 108.82,346.82 108.98,346.43 109.14,346.01 109.30,345.57 109.46,345.10 109.62,344.61 109.78,344.10 109.94,343.57 110.10,343.02 110.26,342.46 110.42,341.88 110.58,341.31 110.74,340.75 110.89,340.22 111.05,339.78 111.21,339.95 111.37,340.44 111.53,340.99 111.69,341.55 111.85,342.13 112.01,342.70 112.17,343.26 112.33,343.80 112.49,344.32 112.65,344.83 112.81,345.31 112.97,345.76 113.13,346.19 113.29,346.60 113.45,346.98 113.61,347.34 113.77,347.68 113.92,347.99 114.08,348.29 114.24,348.56 114.40,348.81 114.56,349.05 114.72,349.27 114.88,349.47 115.04,349.65 115.20,349.82 115.36,349.98 115.52,350.13 115.68,350.26 115.84,350.38 116.00,350.49 116.16,350.60 116.32,350.69 116.48,350.78 116.63,350.85 116.79,350.92 116.95,350.99 117.11,351.05 117.27,351.10 117.43,351.15 117.59,351.19 117.75,351.23 117.91,351.27 118.07,351.30" fill="none" stroke="#111" stroke-width="1.6" stroke-linejoin="round"/>
<line x1="118.07" y1="351.50" x2="126.27" y2="351.50" stroke="#b0b0b0" stroke-width="0.6" stroke-dasharray="1.2,0.8"/>
<text x="91.50" y="350.00" font-size="5.5" fill="#d9503a" stroke="#d9503a" stroke-width="0.2" >1.0</text>
<text x="152.00" y="343.50" font-size="5.5" fill="#222" stroke="#222" stroke-width="0.1" text-anchor="end" >G133</text>
<rect x="20.50" y="354.40" width="64.20" height="14.20" fill="url(#grid)" stroke="#acacac" stroke-width="0.95" />
<polyline points="30.42,367.70 30.66,367.67 30.89,367.65 31.13,367.62 31.37,367.59 31.61,367.56 31.84,367.52 32.08,367.48 32.32,367.43 32.55,367.38 32.79,367.33 33.03,367.27 33.27,367.20 33.50,367.13 33.74,367.05 33.98,366.96 34.22,366.86 34.45,366.76 34.69,366.65 34.93,366.52 35.16,366.39 35.40,366.24 35.64,366.08 35.88,365.91 36.11,365.72 36.35,365.52 36.59,365.30 36.82,365.06 37.06,364.81 37.30,364.54 37.54,364.25 37.77,363.94 38.01,363.60 38.25,363.25 38.49,362.87 38.72,362.48 38.96,362.06 39.20,361.62 39.43,361.16 39.67,360.68 39.91,360.18 40.15,359.68 40.38,359.16 40.62,358.65 40.86,358.14 41.09,357.67 41.33,357.27 41.57,357.43 41.81,357.87 42.04,358.36 42.28,358.87 42.52,359.38 42.76,359.90 42.99,360.40 43.23,360.89 43.47,361.36 43.70,361.81 43.94,362.24 44.18,362.65 44.42,363.04 44.65,363.40 44.89,363.75 45.13,364.07 45.36,364.38 45.60,364.66 45.84,364.92 46.08,365.17 46.31,365.40 46.55,365.61 46.79,365.80 47.03,365.98 47.26,366.15 47.50,366.30 47.74,366.45 47.97,366.58 48.21,366.70 48.45,366.81 48.69,366.91 48.92,367.00 49.16,367.08 49.40,367.16 49.63,367.23 49.87,367.29 50.11,367.35 50.35,367.40 50.58,367.45 50.82,367.50 51.06,367.54 51.30,367.57 51.53,367.60 51.77,367.63" fill="none" stroke="#111" stroke-width="1.6" stroke-linejoin="round"/>
<line x1="51.77" y1="367.80" x2="63.97" y2="367.80" stroke="#b0b0b0" stroke-width="0.6" stroke-dasharray="1.2,0.8"/>
<text x="22.70" y="367.00" font-size="5.5" fill="#d9503a" stroke="#d9503a" stroke-width="0.2" >0.9</text>
<text x="83.10" y="359.80" font-size="5.5" fill="#222" stroke="#222" stroke-width="0.1" text-anchor="end" >D135</text>
<rect x="89.30" y="354.40" width="64.30" height="14.20" fill="url(#grid)" stroke="#acacac" stroke-width="0.95" />
<polyline points="103.02,367.67 103.18,367.65 103.34,367.62 103.50,367.59 103.66,367.56 103.82,367.52 103.98,367.48 104.14,367.43 104.30,367.38 104.46,367.32 104.61,367.26 104.77,367.19 104.93,367.12 105.09,367.04 105.25,366.95 105.41,366.85 105.57,366.75 105.73,366.63 105.89,366.50 106.05,366.37 106.21,366.22 106.37,366.05 106.53,365.88 106.69,365.68 106.85,365.48 107.01,365.25 107.17,365.01 107.33,364.75 107.48,364.46 107.64,364.16 107.80,363.84 107.96,363.49 108.12,363.12 108.28,362.73 108.44,362.31 108.60,361.87 108.76,361.40 108.92,360.91 109.08,360.40 109.24,359.87 109.40,359.32 109.56,358.76 109.72,358.18 109.88,357.61 110.04,357.05 110.20,356.52 110.35,356.08 110.51,356.25 110.67,356.74 110.83,357.29 110.99,357.85 111.15,358.43 111.31,359.00 111.47,359.56 111.63,360.10 111.79,360.62 111.95,361.13 112.11,361.61 112.27,362.06 112.43,362.49 112.59,362.90 112.75,363.28 112.91,363.64 113.07,363.98 113.22,364.29 113.38,364.59 113.54,364.86 113.70,365.11 113.86,365.35 114.02,365.57 114.18,365.77 114.34,365.95 114.50,366.12 114.66,366.28 114.82,366.43 114.98,366.56 115.14,366.68 115.30,366.79 115.46,366.90 115.62,366.99 115.78,367.08 115.94,367.15 116.09,367.22 116.25,367.29 116.41,367.35 116.57,367.40 116.73,367.45 116.89,367.49 117.05,367.53 117.21,367.57 117.37,367.60" fill="none" stroke="#111" stroke-width="1.6" stroke-linejoin="round"/>
<line x1="117.37" y1="367.80" x2="125.57" y2="367.80" stroke="#b0b0b0" stroke-width="0.6" stroke-dasharray="1.2,0.8"/>
<text x="91.50" y="366.30" font-size="5.5" fill="#d9503a" stroke="#d9503a" stroke-width="0.2" >1.0</text>
<text x="152.00" y="359.80" font-size="5.5" fill="#222" stroke="#222" stroke-width="0.1" text-anchor="end" >D135</text>
<line x1="41.40" y1="223.00" x2="41.40" y2="370.50" stroke="#ee7777" stroke-width="0.8" opacity="0.85"/>
<line x1="110.30" y1="223.00" x2="110.30" y2="370.50" stroke="#ee7777" stroke-width="0.8" opacity="0.85"/>
<text x="16.90" y="349.30" font-size="8.4" fill="#000" stroke="#000" stroke-width="0.15" textLength="44.6" lengthAdjust="spacingAndGlyphs" transform="rotate(-90 16.90 349.30)" >Number of cells</text>
<line x1="12.90" y1="369.50" x2="12.90" y2="351.50" stroke="#000" stroke-width="1.0" />
<path d="M12.90 351.50L14.70 355.10L11.10 355.10Z" fill="#000"/>
<line x1="21.00" y1="379.30" x2="39.00" y2="379.30" stroke="#000" stroke-width="1.0" />
<path d="M39.00 379.30L35.40 381.10L35.40 377.50Z" fill="#000"/>
<text x="42.20" y="382.20" font-size="8.6" fill="#000" font-weight="bold" textLength="37.6" lengthAdjust="spacingAndGlyphs" >STAT5-pY694</text>
<line x1="90.80" y1="379.20" x2="108.60" y2="379.20" stroke="#000" stroke-width="1.0" />
<path d="M108.60 379.20L105.00 381.00L105.00 377.40Z" fill="#000"/>
<text x="112.00" y="382.00" font-size="8.6" fill="#000" font-weight="bold" textLength="36.9" lengthAdjust="spacingAndGlyphs" >STAT3-pY705</text>
<text x="170.90" y="214.40" font-size="12.5" fill="#000" stroke="#000" stroke-width="0.15" font-weight="bold" >D</text>
<text x="178.80" y="269.90" font-size="8.8" stroke="#000" stroke-width="0.12" transform="rotate(-54 178.80 269.90)">CALR<tspan font-size="5.81" dy="-3.4">WT</tspan></text>
<text x="188.80" y="269.90" font-size="8.8" stroke="#000" stroke-width="0.12" transform="rotate(-54 188.80 269.90)">CALR<tspan font-size="5.81" dy="-3.4">del52</tspan></text>
<text x="199.60" y="269.90" font-size="8.8" stroke="#000" stroke-width="0.12" transform="rotate(-54 199.60 269.90)">Y109A</text>
<text x="210.00" y="269.90" font-size="8.8" stroke="#000" stroke-width="0.12" transform="rotate(-54 210.00 269.90)">Y128A</text>
<text x="219.80" y="269.90" font-size="8.8" stroke="#000" stroke-width="0.12" transform="rotate(-54 219.80 269.90)">M131A</text>
<text x="229.40" y="269.90" font-size="8.8" stroke="#000" stroke-width="0.12" transform="rotate(-54 229.40 269.90)">C105A</text>
<text x="239.00" y="269.90" font-size="8.8" stroke="#000" stroke-width="0.12" transform="rotate(-54 239.00 269.90)">K111A</text>
<text x="248.80" y="269.90" font-size="8.8" stroke="#000" stroke-width="0.12" transform="rotate(-54 248.80 269.90)">G133A</text>
<text x="258.40" y="269.90" font-size="8.8" stroke="#000" stroke-width="0.12" transform="rotate(-54 258.40 269.90)">D135A</text>
<rect x="171.80" y="273.40" width="89.50" height="13.60" fill="#bfbfbf" stroke="none" stroke-width="1" />
<rect x="173.10" y="274.70" width="86.90" height="11.00" fill="none" stroke="#d6d6d6" stroke-width="0.8" />
<rect x="171.80" y="273.40" width="89.50" height="13.60" fill="none" stroke="#1e1e1e" stroke-width="1.3" />
<rect x="176.50" y="277.75" width="6.00" height="1.50" rx="0.75" fill="#000" opacity="0.05" filter="url(#bl)"/>
<rect x="185.80" y="277.00" width="7.20" height="2.40" rx="1.20" fill="#000" opacity="1" filter="url(#bl)"/>
<rect x="185.90" y="279.75" width="7.00" height="1.50" rx="0.75" fill="#000" opacity="0.6" filter="url(#bl)"/>
<rect x="195.50" y="277.60" width="6.60" height="1.80" rx="0.90" fill="#000" opacity="0.75" filter="url(#bl)"/>
<rect x="195.60" y="279.85" width="6.40" height="1.30" rx="0.65" fill="#000" opacity="0.4" filter="url(#bl)"/>
<rect x="204.30" y="276.95" width="7.60" height="2.50" rx="1.25" fill="#000" opacity="1" filter="url(#bl)"/>
<rect x="204.50" y="279.70" width="7.20" height="1.60" rx="0.80" fill="#000" opacity="0.6" filter="url(#bl)"/>
<rect x="213.50" y="277.40" width="6.80" height="2.00" rx="1.00" fill="#000" opacity="0.85" filter="url(#bl)"/>
<rect x="213.70" y="279.85" width="6.40" height="1.30" rx="0.65" fill="#000" opacity="0.45" filter="url(#bl)"/>
<rect x="222.85" y="277.60" width="6.50" height="1.40" rx="0.70" fill="#000" opacity="0.22" filter="url(#bl)"/>
<rect x="232.15" y="277.60" width="6.50" height="1.40" rx="0.70" fill="#000" opacity="0.22" filter="url(#bl)"/>
<rect x="241.35" y="277.60" width="6.50" height="1.40" rx="0.70" fill="#000" opacity="0.22" filter="url(#bl)"/>
<rect x="250.75" y="277.60" width="6.50" height="1.40" rx="0.70" fill="#000" opacity="0.22" filter="url(#bl)"/>
<rect x="171.80" y="289.60" width="89.50" height="14.70" fill="#bfbfbf" stroke="none" stroke-width="1" />
<rect x="173.10" y="290.90" width="86.90" height="12.10" fill="none" stroke="#d6d6d6" stroke-width="0.8" />
<rect x="171.80" y="289.60" width="89.50" height="14.70" fill="none" stroke="#1e1e1e" stroke-width="1.3" />
<rect x="175.60" y="294.40" width="7.80" height="3.20" rx="1.60" fill="#000" opacity="1" filter="url(#bl)"/>
<rect x="185.50" y="294.40" width="7.80" height="3.20" rx="1.60" fill="#000" opacity="1" filter="url(#bl)"/>
<rect x="194.90" y="294.40" width="7.80" height="3.20" rx="1.60" fill="#000" opacity="1" filter="url(#bl)"/>
<rect x="204.20" y="294.40" width="7.80" height="3.20" rx="1.60" fill="#000" opacity="1" filter="url(#bl)"/>
<rect x="213.00" y="294.40" width="7.80" height="3.20" rx="1.60" fill="#000" opacity="1" filter="url(#bl)"/>
<rect x="222.20" y="294.40" width="7.80" height="3.20" rx="1.60" fill="#000" opacity="1" filter="url(#bl)"/>
<rect x="231.50" y="294.40" width="7.80" height="3.20" rx="1.60" fill="#000" opacity="1" filter="url(#bl)"/>
<rect x="240.70" y="294.40" width="7.80" height="3.20" rx="1.60" fill="#000" opacity="1" filter="url(#bl)"/>
<rect x="250.10" y="294.40" width="7.80" height="3.20" rx="1.60" fill="#000" opacity="1" filter="url(#bl)"/>
<rect x="194.60" y="294.50" width="8.40" height="4.20" rx="2.10" fill="#000" opacity="1" filter="url(#bl)"/>
<rect x="171.80" y="306.80" width="89.50" height="14.70" fill="#bfbfbf" stroke="none" stroke-width="1" />
<rect x="173.10" y="308.10" width="86.90" height="12.10" fill="none" stroke="#d6d6d6" stroke-width="0.8" />
<rect x="171.80" y="306.80" width="89.50" height="14.70" fill="none" stroke="#1e1e1e" stroke-width="1.3" />
<rect x="176.50" y="313.00" width="6.00" height="1.60" rx="0.80" fill="#000" opacity="0.3" filter="url(#bl)"/>
<rect x="185.65" y="313.20" width="7.50" height="2.60" rx="1.30" fill="#000" opacity="0.95" filter="url(#bl)"/>
<rect x="195.05" y="313.20" width="7.50" height="2.60" rx="1.30" fill="#000" opacity="0.95" filter="url(#bl)"/>
<rect x="204.35" y="313.20" width="7.50" height="2.60" rx="1.30" fill="#000" opacity="0.95" filter="url(#bl)"/>
<rect x="213.15" y="313.20" width="7.50" height="2.60" rx="1.30" fill="#000" opacity="0.95" filter="url(#bl)"/>
<rect x="222.85" y="313.70" width="6.50" height="2.00" rx="1.00" fill="#000" opacity="0.55" filter="url(#bl)"/>
<rect x="232.15" y="313.70" width="6.50" height="2.00" rx="1.00" fill="#000" opacity="0.55" filter="url(#bl)"/>
<rect x="241.35" y="313.70" width="6.50" height="2.00" rx="1.00" fill="#000" opacity="0.55" filter="url(#bl)"/>
<rect x="250.75" y="313.70" width="6.50" height="2.00" rx="1.00" fill="#000" opacity="0.55" filter="url(#bl)"/>
<rect x="171.80" y="323.60" width="89.50" height="15.00" fill="#bfbfbf" stroke="none" stroke-width="1" />
<rect x="173.10" y="324.90" width="86.90" height="12.40" fill="none" stroke="#d6d6d6" stroke-width="0.8" />
<rect x="171.80" y="323.60" width="89.50" height="15.00" fill="none" stroke="#1e1e1e" stroke-width="1.3" />
<rect x="175.50" y="329.50" width="8.00" height="3.60" rx="1.80" fill="#000" opacity="1" filter="url(#bl)"/>
<rect x="185.40" y="329.50" width="8.00" height="3.60" rx="1.80" fill="#000" opacity="1" filter="url(#bl)"/>
<rect x="194.80" y="329.50" width="8.00" height="3.60" rx="1.80" fill="#000" opacity="1" filter="url(#bl)"/>
<rect x="204.10" y="329.50" width="8.00" height="3.60" rx="1.80" fill="#000" opacity="1" filter="url(#bl)"/>
<rect x="212.90" y="329.50" width="8.00" height="3.60" rx="1.80" fill="#000" opacity="1" filter="url(#bl)"/>
<rect x="222.10" y="329.50" width="8.00" height="3.60" rx="1.80" fill="#000" opacity="1" filter="url(#bl)"/>
<rect x="231.40" y="329.50" width="8.00" height="3.60" rx="1.80" fill="#000" opacity="1" filter="url(#bl)"/>
<rect x="240.60" y="329.50" width="8.00" height="3.60" rx="1.80" fill="#000" opacity="1" filter="url(#bl)"/>
<rect x="250.00" y="329.50" width="8.00" height="3.60" rx="1.80" fill="#000" opacity="1" filter="url(#bl)"/>
<rect x="194.40" y="329.80" width="8.80" height="4.40" rx="2.20" fill="#000" opacity="1" filter="url(#bl)"/>
<rect x="171.80" y="340.60" width="89.50" height="15.00" fill="#bfbfbf" stroke="none" stroke-width="1" />
<rect x="173.10" y="341.90" width="86.90" height="12.40" fill="none" stroke="#d6d6d6" stroke-width="0.8" />
<rect x="171.80" y="340.60" width="89.50" height="15.00" fill="none" stroke="#1e1e1e" stroke-width="1.3" />
<rect x="175.20" y="345.70" width="8.60" height="4.60" rx="2.30" fill="#000" opacity="1" filter="url(#bl)"/>
<rect x="185.40" y="346.10" width="8.00" height="4.00" rx="2.00" fill="#000" opacity="1" filter="url(#bl)"/>
<rect x="194.30" y="345.80" width="9.00" height="4.60" rx="2.30" fill="#000" opacity="1" filter="url(#bl)"/>
<rect x="204.10" y="346.20" width="8.00" height="4.00" rx="2.00" fill="#000" opacity="1" filter="url(#bl)"/>
<rect x="213.40" y="346.60" width="7.00" height="3.40" rx="1.70" fill="#000" opacity="1" filter="url(#bl)"/>
<rect x="222.60" y="346.80" width="7.00" height="3.20" rx="1.60" fill="#000" opacity="1" filter="url(#bl)"/>
<rect x="231.40" y="346.30" width="8.00" height="3.80" rx="1.90" fill="#000" opacity="1" filter="url(#bl)"/>
<rect x="240.90" y="346.50" width="7.40" height="3.60" rx="1.80" fill="#000" opacity="1" filter="url(#bl)"/>
<rect x="249.60" y="347.30" width="8.80" height="4.20" rx="2.10" fill="#000" opacity="1" filter="url(#bl)"/>
<rect x="171.80" y="357.90" width="89.50" height="13.90" fill="#bfbfbf" stroke="none" stroke-width="1" />
<rect x="173.10" y="359.20" width="86.90" height="11.30" fill="none" stroke="#d6d6d6" stroke-width="0.8" />
<rect x="171.80" y="357.90" width="89.50" height="13.90" fill="none" stroke="#1e1e1e" stroke-width="1.3" />
<rect x="175.50" y="363.80" width="8.00" height="2.80" rx="1.40" fill="#000" opacity="1" filter="url(#bl)"/>
<rect x="185.40" y="363.80" width="8.00" height="2.80" rx="1.40" fill="#000" opacity="1" filter="url(#bl)"/>
<rect x="194.80" y="363.80" width="8.00" height="2.80" rx="1.40" fill="#000" opacity="1" filter="url(#bl)"/>
<rect x="204.10" y="363.80" width="8.00" height="2.80" rx="1.40" fill="#000" opacity="1" filter="url(#bl)"/>
<rect x="212.90" y="363.80" width="8.00" height="2.80" rx="1.40" fill="#000" opacity="1" filter="url(#bl)"/>
<rect x="222.10" y="363.80" width="8.00" height="2.80" rx="1.40" fill="#000" opacity="1" filter="url(#bl)"/>
<rect x="231.40" y="363.80" width="8.00" height="2.80" rx="1.40" fill="#000" opacity="1" filter="url(#bl)"/>
<rect x="240.60" y="363.80" width="8.00" height="2.80" rx="1.40" fill="#000" opacity="1" filter="url(#bl)"/>
<rect x="250.00" y="363.80" width="8.00" height="2.80" rx="1.40" fill="#000" opacity="1" filter="url(#bl)"/>
<text x="264.20" y="284.90" font-size="8.3" fill="#111" stroke="#111" stroke-width="0.05" >p-STAT3</text>
<text x="264.20" y="301.20" font-size="8.3" fill="#111" stroke="#111" stroke-width="0.05" >STAT3</text>
<text x="264.20" y="317.90" font-size="8.3" fill="#111" stroke="#111" stroke-width="0.05" >p-STAT5</text>
<text x="264.20" y="335.10" font-size="8.3" fill="#111" stroke="#111" stroke-width="0.05" >STAT5</text>
<text x="264.20" y="352.60" font-size="8.3" fill="#111" stroke="#111" stroke-width="0.05" >CALR</text>
<text x="264.20" y="369.60" font-size="8.3" fill="#111" stroke="#111" stroke-width="0.05" ><tspan font-family="Liberation Serif">β</tspan>-ACTIN</text>
<text x="185.20" y="383.00" font-size="8.45" fill="#000" stroke="#000" stroke-width="0.15" textLength="62" lengthAdjust="spacingAndGlyphs" >Ba/F3 cell lysate</text>
<text x="313.00" y="214.90" font-size="12.5" fill="#000" stroke="#000" stroke-width="0.15" font-weight="bold" >E</text>
<text x="348.50" y="226.20" font-size="8.5" fill="#000" stroke="#000" stroke-width="0.15" textLength="50.9" lengthAdjust="spacingAndGlyphs" >FLAG-tagged</text>
<line x1="336.90" y1="230.30" x2="411.00" y2="230.30" stroke="#000" stroke-width="1.0" />
<text x="321.70" y="270.90" font-size="8.8" stroke="#000" stroke-width="0.12" transform="rotate(-54 321.70 270.90)">CALR<tspan font-size="5.81" dy="-3.4">WT</tspan></text>
<text x="332.00" y="270.90" font-size="8.8" stroke="#000" stroke-width="0.12" transform="rotate(-54 332.00 270.90)">CALR<tspan font-size="5.81" dy="-3.4">del52</tspan></text>
<text x="343.60" y="270.90" font-size="8.8" stroke="#000" stroke-width="0.12" transform="rotate(-54 343.60 270.90)">Y109A</text>
<text x="353.20" y="270.90" font-size="8.8" stroke="#000" stroke-width="0.12" transform="rotate(-54 353.20 270.90)">Y128A</text>
<text x="362.60" y="270.90" font-size="8.8" stroke="#000" stroke-width="0.12" transform="rotate(-54 362.60 270.90)">M131A</text>
<text x="372.40" y="270.90" font-size="8.8" stroke="#000" stroke-width="0.12" transform="rotate(-54 372.40 270.90)">C105A</text>
<text x="382.40" y="270.90" font-size="8.8" stroke="#000" stroke-width="0.12" transform="rotate(-54 382.40 270.90)">K111A</text>
<text x="392.60" y="270.90" font-size="8.8" stroke="#000" stroke-width="0.12" transform="rotate(-54 392.60 270.90)">G133A</text>
<text x="402.30" y="270.90" font-size="8.8" stroke="#000" stroke-width="0.12" transform="rotate(-54 402.30 270.90)">D135A</text>
<rect x="314.20" y="273.90" width="91.80" height="15.70" fill="#bfbfbf" stroke="none" stroke-width="1" />
<rect x="315.50" y="275.20" width="89.20" height="13.10" fill="none" stroke="#d6d6d6" stroke-width="0.8" />
<rect x="314.20" y="273.90" width="91.80" height="15.70" fill="none" stroke="#1e1e1e" stroke-width="1.3" />
<rect x="320.00" y="282.30" width="6.00" height="1.40" rx="0.70" fill="#000" opacity="0.06" filter="url(#bl)"/>
<rect x="328.95" y="281.80" width="7.50" height="2.40" rx="1.20" fill="#000" opacity="0.95" filter="url(#bl)"/>
<rect x="338.75" y="281.80" width="7.50" height="2.40" rx="1.20" fill="#000" opacity="0.95" filter="url(#bl)"/>
<rect x="348.45" y="281.80" width="7.50" height="2.40" rx="1.20" fill="#000" opacity="0.95" filter="url(#bl)"/>
<rect x="358.15" y="281.80" width="7.50" height="2.40" rx="1.20" fill="#000" opacity="0.95" filter="url(#bl)"/>
<rect x="368.50" y="282.35" width="6.00" height="1.30" rx="0.65" fill="#000" opacity="0.1" filter="url(#bl)"/>
<rect x="377.90" y="282.35" width="6.00" height="1.30" rx="0.65" fill="#000" opacity="0.1" filter="url(#bl)"/>
<rect x="386.90" y="282.35" width="6.00" height="1.30" rx="0.65" fill="#000" opacity="0.1" filter="url(#bl)"/>
<rect x="396.10" y="282.35" width="6.00" height="1.30" rx="0.65" fill="#000" opacity="0.1" filter="url(#bl)"/>
<rect x="314.20" y="293.40" width="91.80" height="15.30" fill="#bfbfbf" stroke="none" stroke-width="1" />
<rect x="315.50" y="294.70" width="89.20" height="12.70" fill="none" stroke="#d6d6d6" stroke-width="0.8" />
<rect x="314.20" y="293.40" width="91.80" height="15.30" fill="none" stroke="#1e1e1e" stroke-width="1.3" />
<rect x="319.20" y="297.00" width="7.60" height="4.60" rx="2.30" fill="#000" opacity="1" filter="url(#bl)"/>
<rect x="328.95" y="301.10" width="7.50" height="2.20" rx="1.10" fill="#000" opacity="0.95" filter="url(#bl)"/>
<rect x="338.75" y="301.10" width="7.50" height="2.20" rx="1.10" fill="#000" opacity="0.95" filter="url(#bl)"/>
<rect x="348.45" y="301.10" width="7.50" height="2.20" rx="1.10" fill="#000" opacity="0.95" filter="url(#bl)"/>
<rect x="358.15" y="301.10" width="7.50" height="2.20" rx="1.10" fill="#000" opacity="0.95" filter="url(#bl)"/>
<rect x="367.25" y="299.60" width="8.50" height="3.40" rx="1.70" fill="#000" opacity="1" filter="url(#bl)"/>
<rect x="376.65" y="299.60" width="8.50" height="3.40" rx="1.70" fill="#000" opacity="1" filter="url(#bl)"/>
<rect x="385.65" y="299.60" width="8.50" height="3.40" rx="1.70" fill="#000" opacity="1" filter="url(#bl)"/>
<rect x="394.85" y="299.60" width="8.50" height="3.40" rx="1.70" fill="#000" opacity="1" filter="url(#bl)"/>
<text x="331.50" y="317.60" font-size="8.4" fill="#000" stroke="#000" stroke-width="0.15" textLength="57.3" lengthAdjust="spacingAndGlyphs" >FLAG pulldown</text>
<rect x="314.20" y="320.40" width="91.80" height="15.30" fill="#bfbfbf" stroke="none" stroke-width="1" />
<rect x="315.50" y="321.70" width="89.20" height="12.70" fill="none" stroke="#d6d6d6" stroke-width="0.8" />
<rect x="314.20" y="320.40" width="91.80" height="15.30" fill="none" stroke="#1e1e1e" stroke-width="1.3" />
<rect x="318.75" y="326.80" width="8.50" height="3.60" rx="1.80" fill="#000" opacity="1" filter="url(#bl)"/>
<rect x="328.45" y="326.80" width="8.50" height="3.60" rx="1.80" fill="#000" opacity="1" filter="url(#bl)"/>
<rect x="338.25" y="326.80" width="8.50" height="3.60" rx="1.80" fill="#000" opacity="1" filter="url(#bl)"/>
<rect x="347.95" y="326.80" width="8.50" height="3.60" rx="1.80" fill="#000" opacity="1" filter="url(#bl)"/>
<rect x="357.65" y="326.80" width="8.50" height="3.60" rx="1.80" fill="#000" opacity="1" filter="url(#bl)"/>
<rect x="367.25" y="326.80" width="8.50" height="3.60" rx="1.80" fill="#000" opacity="1" filter="url(#bl)"/>
<rect x="376.65" y="326.80" width="8.50" height="3.60" rx="1.80" fill="#000" opacity="1" filter="url(#bl)"/>
<rect x="385.65" y="326.80" width="8.50" height="3.60" rx="1.80" fill="#000" opacity="1" filter="url(#bl)"/>
<rect x="394.85" y="326.80" width="8.50" height="3.60" rx="1.80" fill="#000" opacity="1" filter="url(#bl)"/>
<rect x="314.20" y="339.30" width="91.80" height="15.30" fill="#bfbfbf" stroke="none" stroke-width="1" />
<rect x="315.50" y="340.60" width="89.20" height="12.70" fill="none" stroke="#d6d6d6" stroke-width="0.8" />
<rect x="314.20" y="339.30" width="91.80" height="15.30" fill="none" stroke="#1e1e1e" stroke-width="1.3" />
<rect x="318.25" y="343.30" width="9.50" height="7.00" rx="3.50" fill="#000" opacity="1" filter="url(#bl)"/>
<rect x="329.45" y="347.50" width="6.50" height="1.80" rx="0.90" fill="#000" opacity="0.4" filter="url(#bl)"/>
<rect x="339.25" y="347.50" width="6.50" height="1.80" rx="0.90" fill="#000" opacity="0.4" filter="url(#bl)"/>
<rect x="348.95" y="347.50" width="6.50" height="1.80" rx="0.90" fill="#000" opacity="0.4" filter="url(#bl)"/>
<rect x="358.65" y="347.50" width="6.50" height="1.80" rx="0.90" fill="#000" opacity="0.4" filter="url(#bl)"/>
<rect x="367.25" y="347.00" width="8.50" height="3.40" rx="1.70" fill="#000" opacity="1" filter="url(#bl)"/>
<rect x="376.65" y="347.00" width="8.50" height="3.40" rx="1.70" fill="#000" opacity="1" filter="url(#bl)"/>
<rect x="385.65" y="347.00" width="8.50" height="3.40" rx="1.70" fill="#000" opacity="1" filter="url(#bl)"/>
<rect x="394.85" y="347.00" width="8.50" height="3.40" rx="1.70" fill="#000" opacity="1" filter="url(#bl)"/>
<rect x="314.20" y="358.40" width="91.80" height="13.40" fill="#bfbfbf" stroke="none" stroke-width="1" />
<rect x="315.50" y="359.70" width="89.20" height="10.80" fill="none" stroke="#d6d6d6" stroke-width="0.8" />
<rect x="314.20" y="358.40" width="91.80" height="13.40" fill="none" stroke="#1e1e1e" stroke-width="1.3" />
<rect x="319.25" y="363.10" width="7.50" height="2.60" rx="1.30" fill="#000" opacity="0.95" filter="url(#bl)"/>
<rect x="328.95" y="363.10" width="7.50" height="2.60" rx="1.30" fill="#000" opacity="0.95" filter="url(#bl)"/>
<rect x="338.75" y="363.10" width="7.50" height="2.60" rx="1.30" fill="#000" opacity="0.95" filter="url(#bl)"/>
<rect x="348.45" y="363.10" width="7.50" height="2.60" rx="1.30" fill="#000" opacity="0.95" filter="url(#bl)"/>
<rect x="358.15" y="363.10" width="7.50" height="2.60" rx="1.30" fill="#000" opacity="0.95" filter="url(#bl)"/>
<rect x="367.75" y="363.10" width="7.50" height="2.60" rx="1.30" fill="#000" opacity="0.95" filter="url(#bl)"/>
<rect x="377.15" y="363.10" width="7.50" height="2.60" rx="1.30" fill="#000" opacity="0.95" filter="url(#bl)"/>
<rect x="386.15" y="363.10" width="7.50" height="2.60" rx="1.30" fill="#000" opacity="0.95" filter="url(#bl)"/>
<rect x="395.35" y="363.10" width="7.50" height="2.60" rx="1.30" fill="#000" opacity="0.95" filter="url(#bl)"/>
<text x="408.80" y="286.20" font-size="8.4" fill="#111" stroke="#111" stroke-width="0.05" >MPL</text>
<text x="408.80" y="304.70" font-size="8.4" fill="#111" stroke="#111" stroke-width="0.05" >FLAG</text>
<text x="408.80" y="333.10" font-size="8.4" fill="#111" stroke="#111" stroke-width="0.05" >MPL</text>
<text x="408.80" y="351.00" font-size="8.4" fill="#111" stroke="#111" stroke-width="0.05" >FLAG</text>
<text x="408.80" y="369.20" font-size="8.4" fill="#111" stroke="#111" stroke-width="0.05" ><tspan font-family="Liberation Serif">β</tspan>-ACTIN</text>
<text x="329.20" y="382.40" font-size="8.4" fill="#000" stroke="#000" stroke-width="0.15" textLength="61.2" lengthAdjust="spacingAndGlyphs" >293T total lysate</text>
</svg></body></html>
